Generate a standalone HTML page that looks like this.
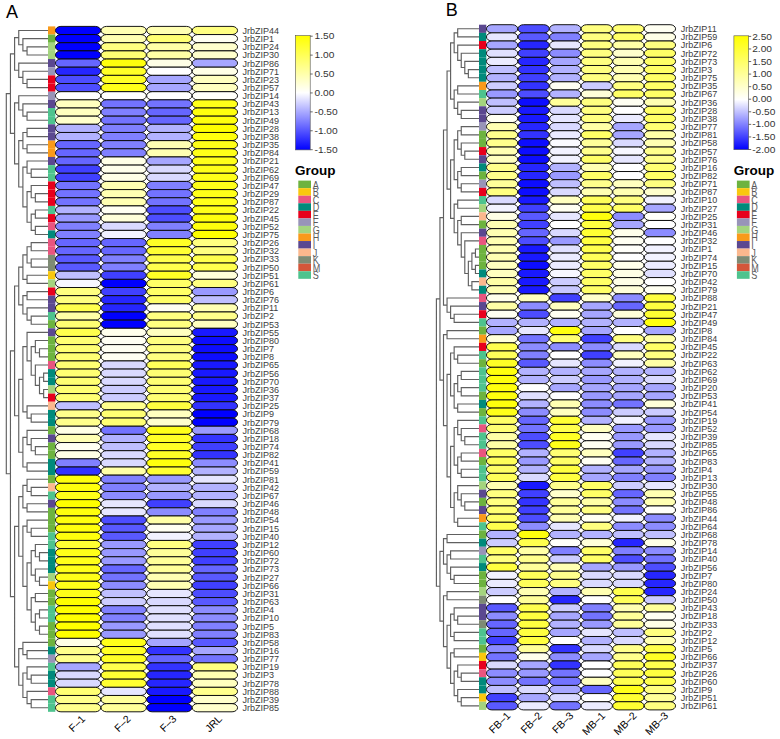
<!DOCTYPE html>
<html><head><meta charset="utf-8"><title>Heatmap</title>
<style>
html,body{margin:0;padding:0;background:#fff;}
body{width:780px;height:739px;overflow:hidden;}
svg{display:block;font-family:"Liberation Sans",sans-serif;}
</style></head>
<body>
<svg width="780" height="739" viewBox="0 0 780 739">
<rect width="780" height="739" fill="#fff"/>
<path d="M48 46.8H27.05V54.96H48M48 38.64H22.9V50.88H27.05M48 30.48H18.75V44.76H22.9M48 79.44H27.05V87.6H48M48 71.28H22.9V83.52H27.05M48 63.12H18.75V77.4H22.9M18.75 37.62H14.6V70.26H18.75M48 112.07H27.05V120.23H48M48 103.92H22.9V116.15H27.05M48 95.76H18.75V110.04H22.9M48 128.39H27.05V136.55H48M48 144.71H27.05V152.87H48M27.05 132.47H22.9V148.79H27.05M48 169.19H31.2V177.35H48M48 161.03H27.05V173.27H31.2M48 193.67H35.35V201.83H48M48 185.51H31.2V197.75H35.35M48 209.99H35.35V218.15H48M48 226.31H35.35V234.47H48M35.35 214.07H31.2V230.39H35.35M31.2 191.63H27.05V222.23H31.2M27.05 167.15H22.9V206.93H27.05M22.9 140.63H18.75V187.04H22.9M18.75 102.9H14.6V163.84H18.75M14.6 53.94H10.45V133.37H14.6M48 242.63H31.2V250.79H48M48 258.95H31.2V267.11H48M31.2 246.71H27.05V263.03H31.2M48 275.27H27.05V283.43H48M27.05 254.87H22.9V279.35H27.05M48 291.58H27.05V299.74H48M48 316.06H31.2V324.22H48M48 307.9H27.05V320.14H31.2M27.05 295.66H22.9V314.02H27.05M22.9 267.11H18.75V304.84H22.9M48 348.7H39.5V356.86H48M48 340.54H35.35V352.78H39.5M48 373.18H43.65V381.34H48M48 389.5H43.65V397.66H48M43.65 377.26H39.5V393.58H43.65M48 365.02H35.35V385.42H39.5M35.35 346.66H31.2V375.22H35.35M48 332.38H27.05V360.94H31.2M48 413.98H31.2V422.14H48M48 405.82H27.05V418.06H31.2M27.05 346.66H22.9V411.94H27.05M48 446.62H35.35V454.77H48M48 438.46H31.2V450.7H35.35M48 430.3H27.05V444.58H31.2M48 462.93H27.05V471.09H48M27.05 437.44H22.9V467.01H27.05M22.9 379.3H18.75V452.23H22.9M18.75 285.97H14.6V415.76H18.75M48 487.41H31.2V495.57H48M48 479.25H27.05V491.49H31.2M48 503.73H27.05V511.89H48M27.05 485.37H22.9V507.81H27.05M48 528.21H31.2V536.37H48M48 520.05H27.05V532.29H31.2M48 552.69H39.5V560.85H48M48 544.53H35.35V556.77H39.5M48 577.17H39.5V585.33H48M48 569.01H35.35V581.25H39.5M35.35 550.65H31.2V575.13H35.35M48 593.49H35.35V601.65H48M48 609.81H39.5V617.97H48M48 626.12H39.5V634.28H48M39.5 613.89H35.35V630.2H39.5M35.35 597.57H31.2V622.05H35.35M31.2 562.89H27.05V609.81H31.2M27.05 526.17H22.9V586.35H27.05M22.9 496.59H18.75V556.26H22.9M48 650.6H27.05V658.76H48M48 642.44H22.9V654.68H27.05M48 675.08H31.2V683.24H48M48 666.92H27.05V679.16H31.2M48 699.56H31.2V707.72H48M48 691.4H27.05V703.64H31.2M27.05 673.04H22.9V697.52H27.05M22.9 648.56H18.75V685.28H22.9M18.75 526.43H14.6V666.92H18.75M14.6 350.87H10.45V596.67H14.6M10.45 93.65H6.3V473.77H10.45" fill="none" stroke="#606060" stroke-width="1.15"/>
<rect x="48" y="26.4" width="7.3" height="8.18" fill="#F99A1A"/>
<rect x="48" y="34.56" width="7.3" height="8.18" fill="#6DB33F"/>
<rect x="48" y="42.72" width="7.3" height="8.18" fill="#A4D47E"/>
<rect x="48" y="50.88" width="7.3" height="8.18" fill="#A4D47E"/>
<rect x="48" y="59.04" width="7.3" height="8.18" fill="#5B4890"/>
<rect x="48" y="67.2" width="7.3" height="8.18" fill="#9894B8"/>
<rect x="48" y="75.36" width="7.3" height="8.18" fill="#E8001C"/>
<rect x="48" y="83.52" width="7.3" height="8.18" fill="#E8001C"/>
<rect x="48" y="91.68" width="7.3" height="8.18" fill="#9894B8"/>
<rect x="48" y="99.84" width="7.3" height="8.18" fill="#5B4890"/>
<rect x="48" y="108" width="7.3" height="8.18" fill="#4EC38E"/>
<rect x="48" y="116.15" width="7.3" height="8.18" fill="#4EC38E"/>
<rect x="48" y="124.31" width="7.3" height="8.18" fill="#5B4890"/>
<rect x="48" y="132.47" width="7.3" height="8.18" fill="#5B4890"/>
<rect x="48" y="140.63" width="7.3" height="8.18" fill="#F99A1A"/>
<rect x="48" y="148.79" width="7.3" height="8.18" fill="#F99A1A"/>
<rect x="48" y="156.95" width="7.3" height="8.18" fill="#5B4890"/>
<rect x="48" y="165.11" width="7.3" height="8.18" fill="#4EC38E"/>
<rect x="48" y="173.27" width="7.3" height="8.18" fill="#4EC38E"/>
<rect x="48" y="181.43" width="7.3" height="8.18" fill="#E8001C"/>
<rect x="48" y="189.59" width="7.3" height="8.18" fill="#E8001C"/>
<rect x="48" y="197.75" width="7.3" height="8.18" fill="#E8001C"/>
<rect x="48" y="205.91" width="7.3" height="8.18" fill="#4EC38E"/>
<rect x="48" y="214.07" width="7.3" height="8.18" fill="#E8001C"/>
<rect x="48" y="222.23" width="7.3" height="8.18" fill="#E9557F"/>
<rect x="48" y="230.39" width="7.3" height="8.18" fill="#008A7B"/>
<rect x="48" y="238.55" width="7.3" height="8.18" fill="#E9557F"/>
<rect x="48" y="246.71" width="7.3" height="8.18" fill="#E9557F"/>
<rect x="48" y="254.87" width="7.3" height="8.18" fill="#7E8B74"/>
<rect x="48" y="263.03" width="7.3" height="8.18" fill="#7E8B74"/>
<rect x="48" y="271.19" width="7.3" height="8.18" fill="#F9C80E"/>
<rect x="48" y="279.35" width="7.3" height="8.18" fill="#A4D47E"/>
<rect x="48" y="287.5" width="7.3" height="8.18" fill="#E8001C"/>
<rect x="48" y="295.66" width="7.3" height="8.18" fill="#5B4890"/>
<rect x="48" y="303.82" width="7.3" height="8.18" fill="#5B4890"/>
<rect x="48" y="311.98" width="7.3" height="8.18" fill="#4EC38E"/>
<rect x="48" y="320.14" width="7.3" height="8.18" fill="#6DB33F"/>
<rect x="48" y="328.3" width="7.3" height="8.18" fill="#5B4890"/>
<rect x="48" y="336.46" width="7.3" height="8.18" fill="#6DB33F"/>
<rect x="48" y="344.62" width="7.3" height="8.18" fill="#6DB33F"/>
<rect x="48" y="352.78" width="7.3" height="8.18" fill="#6DB33F"/>
<rect x="48" y="360.94" width="7.3" height="8.18" fill="#E9557F"/>
<rect x="48" y="369.1" width="7.3" height="8.18" fill="#008A7B"/>
<rect x="48" y="377.26" width="7.3" height="8.18" fill="#008A7B"/>
<rect x="48" y="385.42" width="7.3" height="8.18" fill="#A4D47E"/>
<rect x="48" y="393.58" width="7.3" height="8.18" fill="#E8001C"/>
<rect x="48" y="401.74" width="7.3" height="8.18" fill="#FBB88E"/>
<rect x="48" y="409.9" width="7.3" height="8.18" fill="#008A7B"/>
<rect x="48" y="418.06" width="7.3" height="8.18" fill="#008A7B"/>
<rect x="48" y="426.22" width="7.3" height="8.18" fill="#6DB33F"/>
<rect x="48" y="434.38" width="7.3" height="8.18" fill="#5B4890"/>
<rect x="48" y="442.54" width="7.3" height="8.18" fill="#6DB33F"/>
<rect x="48" y="450.7" width="7.3" height="8.18" fill="#6DB33F"/>
<rect x="48" y="458.85" width="7.3" height="8.18" fill="#008A7B"/>
<rect x="48" y="467.01" width="7.3" height="8.18" fill="#008A7B"/>
<rect x="48" y="475.17" width="7.3" height="8.18" fill="#6DB33F"/>
<rect x="48" y="483.33" width="7.3" height="8.18" fill="#FBB88E"/>
<rect x="48" y="491.49" width="7.3" height="8.18" fill="#4EC38E"/>
<rect x="48" y="499.65" width="7.3" height="8.18" fill="#5B4890"/>
<rect x="48" y="507.81" width="7.3" height="8.18" fill="#6DB33F"/>
<rect x="48" y="515.97" width="7.3" height="8.18" fill="#6DB33F"/>
<rect x="48" y="524.13" width="7.3" height="8.18" fill="#6DB33F"/>
<rect x="48" y="532.29" width="7.3" height="8.18" fill="#4EC38E"/>
<rect x="48" y="540.45" width="7.3" height="8.18" fill="#4EC38E"/>
<rect x="48" y="548.61" width="7.3" height="8.18" fill="#008A7B"/>
<rect x="48" y="556.77" width="7.3" height="8.18" fill="#008A7B"/>
<rect x="48" y="564.93" width="7.3" height="8.18" fill="#008A7B"/>
<rect x="48" y="573.09" width="7.3" height="8.18" fill="#A4D47E"/>
<rect x="48" y="581.25" width="7.3" height="8.18" fill="#F9C80E"/>
<rect x="48" y="589.41" width="7.3" height="8.18" fill="#6DB33F"/>
<rect x="48" y="597.57" width="7.3" height="8.18" fill="#6DB33F"/>
<rect x="48" y="605.73" width="7.3" height="8.18" fill="#4EC38E"/>
<rect x="48" y="613.89" width="7.3" height="8.18" fill="#4EC38E"/>
<rect x="48" y="622.05" width="7.3" height="8.18" fill="#6DB33F"/>
<rect x="48" y="630.2" width="7.3" height="8.18" fill="#6DB33F"/>
<rect x="48" y="638.36" width="7.3" height="8.18" fill="#6DB33F"/>
<rect x="48" y="646.52" width="7.3" height="8.18" fill="#008A7B"/>
<rect x="48" y="654.68" width="7.3" height="8.18" fill="#9894B8"/>
<rect x="48" y="662.84" width="7.3" height="8.18" fill="#4EC38E"/>
<rect x="48" y="671" width="7.3" height="8.18" fill="#008A7B"/>
<rect x="48" y="679.16" width="7.3" height="8.18" fill="#008A7B"/>
<rect x="48" y="687.32" width="7.3" height="8.18" fill="#E9557F"/>
<rect x="48" y="695.48" width="7.3" height="8.18" fill="#4EC38E"/>
<rect x="48" y="703.64" width="7.3" height="8.18" fill="#4EC38E"/>
<rect x="55.45" y="26.4" width="45.3" height="8.16" rx="5.5" ry="4.08" fill="#0000FF" stroke="#0a0a0a" stroke-width="0.95"/>
<rect x="101.05" y="26.4" width="45.3" height="8.16" rx="5.5" ry="4.08" fill="#FFFFB2" stroke="#0a0a0a" stroke-width="0.95"/>
<rect x="146.65" y="26.4" width="45.3" height="8.16" rx="5.5" ry="4.08" fill="#FFFFB2" stroke="#0a0a0a" stroke-width="0.95"/>
<rect x="192.25" y="26.4" width="45.3" height="8.16" rx="5.5" ry="4.08" fill="#FFFF80" stroke="#0a0a0a" stroke-width="0.95"/>
<rect x="55.45" y="34.56" width="45.3" height="8.16" rx="5.5" ry="4.08" fill="#0000FF" stroke="#0a0a0a" stroke-width="0.95"/>
<rect x="101.05" y="34.56" width="45.3" height="8.16" rx="5.5" ry="4.08" fill="#FFFFB2" stroke="#0a0a0a" stroke-width="0.95"/>
<rect x="146.65" y="34.56" width="45.3" height="8.16" rx="5.5" ry="4.08" fill="#FFFF73" stroke="#0a0a0a" stroke-width="0.95"/>
<rect x="192.25" y="34.56" width="45.3" height="8.16" rx="5.5" ry="4.08" fill="#FFFFF2" stroke="#0a0a0a" stroke-width="0.95"/>
<rect x="55.45" y="42.72" width="45.3" height="8.16" rx="5.5" ry="4.08" fill="#0000FF" stroke="#0a0a0a" stroke-width="0.95"/>
<rect x="101.05" y="42.72" width="45.3" height="8.16" rx="5.5" ry="4.08" fill="#FFFF80" stroke="#0a0a0a" stroke-width="0.95"/>
<rect x="146.65" y="42.72" width="45.3" height="8.16" rx="5.5" ry="4.08" fill="#FFFFA6" stroke="#0a0a0a" stroke-width="0.95"/>
<rect x="192.25" y="42.72" width="45.3" height="8.16" rx="5.5" ry="4.08" fill="#FFFFCC" stroke="#0a0a0a" stroke-width="0.95"/>
<rect x="55.45" y="50.88" width="45.3" height="8.16" rx="5.5" ry="4.08" fill="#0000FF" stroke="#0a0a0a" stroke-width="0.95"/>
<rect x="101.05" y="50.88" width="45.3" height="8.16" rx="5.5" ry="4.08" fill="#FFFF73" stroke="#0a0a0a" stroke-width="0.95"/>
<rect x="146.65" y="50.88" width="45.3" height="8.16" rx="5.5" ry="4.08" fill="#FFFFA6" stroke="#0a0a0a" stroke-width="0.95"/>
<rect x="192.25" y="50.88" width="45.3" height="8.16" rx="5.5" ry="4.08" fill="#FFFFCC" stroke="#0a0a0a" stroke-width="0.95"/>
<rect x="55.45" y="59.04" width="45.3" height="8.16" rx="5.5" ry="4.08" fill="#6666FF" stroke="#0a0a0a" stroke-width="0.95"/>
<rect x="101.05" y="59.04" width="45.3" height="8.16" rx="5.5" ry="4.08" fill="#FFFF0D" stroke="#0a0a0a" stroke-width="0.95"/>
<rect x="146.65" y="59.04" width="45.3" height="8.16" rx="5.5" ry="4.08" fill="#FFFFE6" stroke="#0a0a0a" stroke-width="0.95"/>
<rect x="192.25" y="59.04" width="45.3" height="8.16" rx="5.5" ry="4.08" fill="#A6A6FF" stroke="#0a0a0a" stroke-width="0.95"/>
<rect x="55.45" y="67.2" width="45.3" height="8.16" rx="5.5" ry="4.08" fill="#2626FF" stroke="#0a0a0a" stroke-width="0.95"/>
<rect x="101.05" y="67.2" width="45.3" height="8.16" rx="5.5" ry="4.08" fill="#FFFF26" stroke="#0a0a0a" stroke-width="0.95"/>
<rect x="146.65" y="67.2" width="45.3" height="8.16" rx="5.5" ry="4.08" fill="#FFFFFF" stroke="#0a0a0a" stroke-width="0.95"/>
<rect x="192.25" y="67.2" width="45.3" height="8.16" rx="5.5" ry="4.08" fill="#FFFFE6" stroke="#0a0a0a" stroke-width="0.95"/>
<rect x="55.45" y="75.36" width="45.3" height="8.16" rx="5.5" ry="4.08" fill="#4D4DFF" stroke="#0a0a0a" stroke-width="0.95"/>
<rect x="101.05" y="75.36" width="45.3" height="8.16" rx="5.5" ry="4.08" fill="#FFFF26" stroke="#0a0a0a" stroke-width="0.95"/>
<rect x="146.65" y="75.36" width="45.3" height="8.16" rx="5.5" ry="4.08" fill="#A6A6FF" stroke="#0a0a0a" stroke-width="0.95"/>
<rect x="192.25" y="75.36" width="45.3" height="8.16" rx="5.5" ry="4.08" fill="#FFFFBF" stroke="#0a0a0a" stroke-width="0.95"/>
<rect x="55.45" y="83.52" width="45.3" height="8.16" rx="5.5" ry="4.08" fill="#4D4DFF" stroke="#0a0a0a" stroke-width="0.95"/>
<rect x="101.05" y="83.52" width="45.3" height="8.16" rx="5.5" ry="4.08" fill="#FFFF19" stroke="#0a0a0a" stroke-width="0.95"/>
<rect x="146.65" y="83.52" width="45.3" height="8.16" rx="5.5" ry="4.08" fill="#A6A6FF" stroke="#0a0a0a" stroke-width="0.95"/>
<rect x="192.25" y="83.52" width="45.3" height="8.16" rx="5.5" ry="4.08" fill="#FFFFBF" stroke="#0a0a0a" stroke-width="0.95"/>
<rect x="55.45" y="91.68" width="45.3" height="8.16" rx="5.5" ry="4.08" fill="#FFFFFF" stroke="#0a0a0a" stroke-width="0.95"/>
<rect x="101.05" y="91.68" width="45.3" height="8.16" rx="5.5" ry="4.08" fill="#FFFFFF" stroke="#0a0a0a" stroke-width="0.95"/>
<rect x="146.65" y="91.68" width="45.3" height="8.16" rx="5.5" ry="4.08" fill="#FFFFFF" stroke="#0a0a0a" stroke-width="0.95"/>
<rect x="192.25" y="91.68" width="45.3" height="8.16" rx="5.5" ry="4.08" fill="#FFFFFA" stroke="#0a0a0a" stroke-width="0.95"/>
<rect x="55.45" y="99.84" width="45.3" height="8.16" rx="5.5" ry="4.08" fill="#FFFFBF" stroke="#0a0a0a" stroke-width="0.95"/>
<rect x="101.05" y="99.84" width="45.3" height="8.16" rx="5.5" ry="4.08" fill="#7373FF" stroke="#0a0a0a" stroke-width="0.95"/>
<rect x="146.65" y="99.84" width="45.3" height="8.16" rx="5.5" ry="4.08" fill="#7373FF" stroke="#0a0a0a" stroke-width="0.95"/>
<rect x="192.25" y="99.84" width="45.3" height="8.16" rx="5.5" ry="4.08" fill="#FFFF19" stroke="#0a0a0a" stroke-width="0.95"/>
<rect x="55.45" y="108" width="45.3" height="8.16" rx="5.5" ry="4.08" fill="#FFFFBF" stroke="#0a0a0a" stroke-width="0.95"/>
<rect x="101.05" y="108" width="45.3" height="8.16" rx="5.5" ry="4.08" fill="#8080FF" stroke="#0a0a0a" stroke-width="0.95"/>
<rect x="146.65" y="108" width="45.3" height="8.16" rx="5.5" ry="4.08" fill="#6666FF" stroke="#0a0a0a" stroke-width="0.95"/>
<rect x="192.25" y="108" width="45.3" height="8.16" rx="5.5" ry="4.08" fill="#FFFF0D" stroke="#0a0a0a" stroke-width="0.95"/>
<rect x="55.45" y="116.15" width="45.3" height="8.16" rx="5.5" ry="4.08" fill="#FFFFCC" stroke="#0a0a0a" stroke-width="0.95"/>
<rect x="101.05" y="116.15" width="45.3" height="8.16" rx="5.5" ry="4.08" fill="#7373FF" stroke="#0a0a0a" stroke-width="0.95"/>
<rect x="146.65" y="116.15" width="45.3" height="8.16" rx="5.5" ry="4.08" fill="#6666FF" stroke="#0a0a0a" stroke-width="0.95"/>
<rect x="192.25" y="116.15" width="45.3" height="8.16" rx="5.5" ry="4.08" fill="#FFFF0D" stroke="#0a0a0a" stroke-width="0.95"/>
<rect x="55.45" y="124.31" width="45.3" height="8.16" rx="5.5" ry="4.08" fill="#B2B2FF" stroke="#0a0a0a" stroke-width="0.95"/>
<rect x="101.05" y="124.31" width="45.3" height="8.16" rx="5.5" ry="4.08" fill="#8080FF" stroke="#0a0a0a" stroke-width="0.95"/>
<rect x="146.65" y="124.31" width="45.3" height="8.16" rx="5.5" ry="4.08" fill="#B2B2FF" stroke="#0a0a0a" stroke-width="0.95"/>
<rect x="192.25" y="124.31" width="45.3" height="8.16" rx="5.5" ry="4.08" fill="#FFFF00" stroke="#0a0a0a" stroke-width="0.95"/>
<rect x="55.45" y="132.47" width="45.3" height="8.16" rx="5.5" ry="4.08" fill="#B2B2FF" stroke="#0a0a0a" stroke-width="0.95"/>
<rect x="101.05" y="132.47" width="45.3" height="8.16" rx="5.5" ry="4.08" fill="#8080FF" stroke="#0a0a0a" stroke-width="0.95"/>
<rect x="146.65" y="132.47" width="45.3" height="8.16" rx="5.5" ry="4.08" fill="#B2B2FF" stroke="#0a0a0a" stroke-width="0.95"/>
<rect x="192.25" y="132.47" width="45.3" height="8.16" rx="5.5" ry="4.08" fill="#FFFF0D" stroke="#0a0a0a" stroke-width="0.95"/>
<rect x="55.45" y="140.63" width="45.3" height="8.16" rx="5.5" ry="4.08" fill="#6666FF" stroke="#0a0a0a" stroke-width="0.95"/>
<rect x="101.05" y="140.63" width="45.3" height="8.16" rx="5.5" ry="4.08" fill="#8080FF" stroke="#0a0a0a" stroke-width="0.95"/>
<rect x="146.65" y="140.63" width="45.3" height="8.16" rx="5.5" ry="4.08" fill="#FFFFB2" stroke="#0a0a0a" stroke-width="0.95"/>
<rect x="192.25" y="140.63" width="45.3" height="8.16" rx="5.5" ry="4.08" fill="#FFFF19" stroke="#0a0a0a" stroke-width="0.95"/>
<rect x="55.45" y="148.79" width="45.3" height="8.16" rx="5.5" ry="4.08" fill="#6666FF" stroke="#0a0a0a" stroke-width="0.95"/>
<rect x="101.05" y="148.79" width="45.3" height="8.16" rx="5.5" ry="4.08" fill="#8080FF" stroke="#0a0a0a" stroke-width="0.95"/>
<rect x="146.65" y="148.79" width="45.3" height="8.16" rx="5.5" ry="4.08" fill="#FFFFB2" stroke="#0a0a0a" stroke-width="0.95"/>
<rect x="192.25" y="148.79" width="45.3" height="8.16" rx="5.5" ry="4.08" fill="#FFFF19" stroke="#0a0a0a" stroke-width="0.95"/>
<rect x="55.45" y="156.95" width="45.3" height="8.16" rx="5.5" ry="4.08" fill="#6666FF" stroke="#0a0a0a" stroke-width="0.95"/>
<rect x="101.05" y="156.95" width="45.3" height="8.16" rx="5.5" ry="4.08" fill="#FFFFE6" stroke="#0a0a0a" stroke-width="0.95"/>
<rect x="146.65" y="156.95" width="45.3" height="8.16" rx="5.5" ry="4.08" fill="#A6A6FF" stroke="#0a0a0a" stroke-width="0.95"/>
<rect x="192.25" y="156.95" width="45.3" height="8.16" rx="5.5" ry="4.08" fill="#FFFF19" stroke="#0a0a0a" stroke-width="0.95"/>
<rect x="55.45" y="165.11" width="45.3" height="8.16" rx="5.5" ry="4.08" fill="#4040FF" stroke="#0a0a0a" stroke-width="0.95"/>
<rect x="101.05" y="165.11" width="45.3" height="8.16" rx="5.5" ry="4.08" fill="#FFFFEB" stroke="#0a0a0a" stroke-width="0.95"/>
<rect x="146.65" y="165.11" width="45.3" height="8.16" rx="5.5" ry="4.08" fill="#D9D9FF" stroke="#0a0a0a" stroke-width="0.95"/>
<rect x="192.25" y="165.11" width="45.3" height="8.16" rx="5.5" ry="4.08" fill="#FFFF19" stroke="#0a0a0a" stroke-width="0.95"/>
<rect x="55.45" y="173.27" width="45.3" height="8.16" rx="5.5" ry="4.08" fill="#4040FF" stroke="#0a0a0a" stroke-width="0.95"/>
<rect x="101.05" y="173.27" width="45.3" height="8.16" rx="5.5" ry="4.08" fill="#FFFFE6" stroke="#0a0a0a" stroke-width="0.95"/>
<rect x="146.65" y="173.27" width="45.3" height="8.16" rx="5.5" ry="4.08" fill="#D9D9FF" stroke="#0a0a0a" stroke-width="0.95"/>
<rect x="192.25" y="173.27" width="45.3" height="8.16" rx="5.5" ry="4.08" fill="#FFFF19" stroke="#0a0a0a" stroke-width="0.95"/>
<rect x="55.45" y="181.43" width="45.3" height="8.16" rx="5.5" ry="4.08" fill="#7373FF" stroke="#0a0a0a" stroke-width="0.95"/>
<rect x="101.05" y="181.43" width="45.3" height="8.16" rx="5.5" ry="4.08" fill="#FFFFB2" stroke="#0a0a0a" stroke-width="0.95"/>
<rect x="146.65" y="181.43" width="45.3" height="8.16" rx="5.5" ry="4.08" fill="#8080FF" stroke="#0a0a0a" stroke-width="0.95"/>
<rect x="192.25" y="181.43" width="45.3" height="8.16" rx="5.5" ry="4.08" fill="#FFFF19" stroke="#0a0a0a" stroke-width="0.95"/>
<rect x="55.45" y="189.59" width="45.3" height="8.16" rx="5.5" ry="4.08" fill="#7373FF" stroke="#0a0a0a" stroke-width="0.95"/>
<rect x="101.05" y="189.59" width="45.3" height="8.16" rx="5.5" ry="4.08" fill="#FFFFB2" stroke="#0a0a0a" stroke-width="0.95"/>
<rect x="146.65" y="189.59" width="45.3" height="8.16" rx="5.5" ry="4.08" fill="#7373FF" stroke="#0a0a0a" stroke-width="0.95"/>
<rect x="192.25" y="189.59" width="45.3" height="8.16" rx="5.5" ry="4.08" fill="#FFFF19" stroke="#0a0a0a" stroke-width="0.95"/>
<rect x="55.45" y="197.75" width="45.3" height="8.16" rx="5.5" ry="4.08" fill="#7373FF" stroke="#0a0a0a" stroke-width="0.95"/>
<rect x="101.05" y="197.75" width="45.3" height="8.16" rx="5.5" ry="4.08" fill="#FFFFB2" stroke="#0a0a0a" stroke-width="0.95"/>
<rect x="146.65" y="197.75" width="45.3" height="8.16" rx="5.5" ry="4.08" fill="#7373FF" stroke="#0a0a0a" stroke-width="0.95"/>
<rect x="192.25" y="197.75" width="45.3" height="8.16" rx="5.5" ry="4.08" fill="#FFFF19" stroke="#0a0a0a" stroke-width="0.95"/>
<rect x="55.45" y="205.91" width="45.3" height="8.16" rx="5.5" ry="4.08" fill="#B2B2FF" stroke="#0a0a0a" stroke-width="0.95"/>
<rect x="101.05" y="205.91" width="45.3" height="8.16" rx="5.5" ry="4.08" fill="#FFFFF2" stroke="#0a0a0a" stroke-width="0.95"/>
<rect x="146.65" y="205.91" width="45.3" height="8.16" rx="5.5" ry="4.08" fill="#4D4DFF" stroke="#0a0a0a" stroke-width="0.95"/>
<rect x="192.25" y="205.91" width="45.3" height="8.16" rx="5.5" ry="4.08" fill="#FFFF19" stroke="#0a0a0a" stroke-width="0.95"/>
<rect x="55.45" y="214.07" width="45.3" height="8.16" rx="5.5" ry="4.08" fill="#9999FF" stroke="#0a0a0a" stroke-width="0.95"/>
<rect x="101.05" y="214.07" width="45.3" height="8.16" rx="5.5" ry="4.08" fill="#FFFFD9" stroke="#0a0a0a" stroke-width="0.95"/>
<rect x="146.65" y="214.07" width="45.3" height="8.16" rx="5.5" ry="4.08" fill="#4D4DFF" stroke="#0a0a0a" stroke-width="0.95"/>
<rect x="192.25" y="214.07" width="45.3" height="8.16" rx="5.5" ry="4.08" fill="#FFFF0D" stroke="#0a0a0a" stroke-width="0.95"/>
<rect x="55.45" y="222.23" width="45.3" height="8.16" rx="5.5" ry="4.08" fill="#8080FF" stroke="#0a0a0a" stroke-width="0.95"/>
<rect x="101.05" y="222.23" width="45.3" height="8.16" rx="5.5" ry="4.08" fill="#D9D9FF" stroke="#0a0a0a" stroke-width="0.95"/>
<rect x="146.65" y="222.23" width="45.3" height="8.16" rx="5.5" ry="4.08" fill="#8080FF" stroke="#0a0a0a" stroke-width="0.95"/>
<rect x="192.25" y="222.23" width="45.3" height="8.16" rx="5.5" ry="4.08" fill="#FFFF0D" stroke="#0a0a0a" stroke-width="0.95"/>
<rect x="55.45" y="230.39" width="45.3" height="8.16" rx="5.5" ry="4.08" fill="#8080FF" stroke="#0a0a0a" stroke-width="0.95"/>
<rect x="101.05" y="230.39" width="45.3" height="8.16" rx="5.5" ry="4.08" fill="#F2F2FF" stroke="#0a0a0a" stroke-width="0.95"/>
<rect x="146.65" y="230.39" width="45.3" height="8.16" rx="5.5" ry="4.08" fill="#8080FF" stroke="#0a0a0a" stroke-width="0.95"/>
<rect x="192.25" y="230.39" width="45.3" height="8.16" rx="5.5" ry="4.08" fill="#FFFF00" stroke="#0a0a0a" stroke-width="0.95"/>
<rect x="55.45" y="238.55" width="45.3" height="8.16" rx="5.5" ry="4.08" fill="#6666FF" stroke="#0a0a0a" stroke-width="0.95"/>
<rect x="101.05" y="238.55" width="45.3" height="8.16" rx="5.5" ry="4.08" fill="#6666FF" stroke="#0a0a0a" stroke-width="0.95"/>
<rect x="146.65" y="238.55" width="45.3" height="8.16" rx="5.5" ry="4.08" fill="#FFFF26" stroke="#0a0a0a" stroke-width="0.95"/>
<rect x="192.25" y="238.55" width="45.3" height="8.16" rx="5.5" ry="4.08" fill="#FFFF80" stroke="#0a0a0a" stroke-width="0.95"/>
<rect x="55.45" y="246.71" width="45.3" height="8.16" rx="5.5" ry="4.08" fill="#6666FF" stroke="#0a0a0a" stroke-width="0.95"/>
<rect x="101.05" y="246.71" width="45.3" height="8.16" rx="5.5" ry="4.08" fill="#6666FF" stroke="#0a0a0a" stroke-width="0.95"/>
<rect x="146.65" y="246.71" width="45.3" height="8.16" rx="5.5" ry="4.08" fill="#FFFF33" stroke="#0a0a0a" stroke-width="0.95"/>
<rect x="192.25" y="246.71" width="45.3" height="8.16" rx="5.5" ry="4.08" fill="#FFFF80" stroke="#0a0a0a" stroke-width="0.95"/>
<rect x="55.45" y="254.87" width="45.3" height="8.16" rx="5.5" ry="4.08" fill="#5959FF" stroke="#0a0a0a" stroke-width="0.95"/>
<rect x="101.05" y="254.87" width="45.3" height="8.16" rx="5.5" ry="4.08" fill="#8080FF" stroke="#0a0a0a" stroke-width="0.95"/>
<rect x="146.65" y="254.87" width="45.3" height="8.16" rx="5.5" ry="4.08" fill="#FFFF4D" stroke="#0a0a0a" stroke-width="0.95"/>
<rect x="192.25" y="254.87" width="45.3" height="8.16" rx="5.5" ry="4.08" fill="#FFFF4D" stroke="#0a0a0a" stroke-width="0.95"/>
<rect x="55.45" y="263.03" width="45.3" height="8.16" rx="5.5" ry="4.08" fill="#5959FF" stroke="#0a0a0a" stroke-width="0.95"/>
<rect x="101.05" y="263.03" width="45.3" height="8.16" rx="5.5" ry="4.08" fill="#8080FF" stroke="#0a0a0a" stroke-width="0.95"/>
<rect x="146.65" y="263.03" width="45.3" height="8.16" rx="5.5" ry="4.08" fill="#FFFF4D" stroke="#0a0a0a" stroke-width="0.95"/>
<rect x="192.25" y="263.03" width="45.3" height="8.16" rx="5.5" ry="4.08" fill="#FFFF4D" stroke="#0a0a0a" stroke-width="0.95"/>
<rect x="55.45" y="271.19" width="45.3" height="8.16" rx="5.5" ry="4.08" fill="#BFBFFF" stroke="#0a0a0a" stroke-width="0.95"/>
<rect x="101.05" y="271.19" width="45.3" height="8.16" rx="5.5" ry="4.08" fill="#4040FF" stroke="#0a0a0a" stroke-width="0.95"/>
<rect x="146.65" y="271.19" width="45.3" height="8.16" rx="5.5" ry="4.08" fill="#FFFF26" stroke="#0a0a0a" stroke-width="0.95"/>
<rect x="192.25" y="271.19" width="45.3" height="8.16" rx="5.5" ry="4.08" fill="#FFFFD9" stroke="#0a0a0a" stroke-width="0.95"/>
<rect x="55.45" y="279.35" width="45.3" height="8.16" rx="5.5" ry="4.08" fill="#F7F7FF" stroke="#0a0a0a" stroke-width="0.95"/>
<rect x="101.05" y="279.35" width="45.3" height="8.16" rx="5.5" ry="4.08" fill="#0000FF" stroke="#0a0a0a" stroke-width="0.95"/>
<rect x="146.65" y="279.35" width="45.3" height="8.16" rx="5.5" ry="4.08" fill="#FFFF66" stroke="#0a0a0a" stroke-width="0.95"/>
<rect x="192.25" y="279.35" width="45.3" height="8.16" rx="5.5" ry="4.08" fill="#FFFF80" stroke="#0a0a0a" stroke-width="0.95"/>
<rect x="55.45" y="287.5" width="45.3" height="8.16" rx="5.5" ry="4.08" fill="#FFFF80" stroke="#0a0a0a" stroke-width="0.95"/>
<rect x="101.05" y="287.5" width="45.3" height="8.16" rx="5.5" ry="4.08" fill="#4040FF" stroke="#0a0a0a" stroke-width="0.95"/>
<rect x="146.65" y="287.5" width="45.3" height="8.16" rx="5.5" ry="4.08" fill="#FFFF66" stroke="#0a0a0a" stroke-width="0.95"/>
<rect x="192.25" y="287.5" width="45.3" height="8.16" rx="5.5" ry="4.08" fill="#9999FF" stroke="#0a0a0a" stroke-width="0.95"/>
<rect x="55.45" y="295.66" width="45.3" height="8.16" rx="5.5" ry="4.08" fill="#FFFF80" stroke="#0a0a0a" stroke-width="0.95"/>
<rect x="101.05" y="295.66" width="45.3" height="8.16" rx="5.5" ry="4.08" fill="#2626FF" stroke="#0a0a0a" stroke-width="0.95"/>
<rect x="146.65" y="295.66" width="45.3" height="8.16" rx="5.5" ry="4.08" fill="#FFFF66" stroke="#0a0a0a" stroke-width="0.95"/>
<rect x="192.25" y="295.66" width="45.3" height="8.16" rx="5.5" ry="4.08" fill="#BFBFFF" stroke="#0a0a0a" stroke-width="0.95"/>
<rect x="55.45" y="303.82" width="45.3" height="8.16" rx="5.5" ry="4.08" fill="#FFFF4D" stroke="#0a0a0a" stroke-width="0.95"/>
<rect x="101.05" y="303.82" width="45.3" height="8.16" rx="5.5" ry="4.08" fill="#2626FF" stroke="#0a0a0a" stroke-width="0.95"/>
<rect x="146.65" y="303.82" width="45.3" height="8.16" rx="5.5" ry="4.08" fill="#FFFFF2" stroke="#0a0a0a" stroke-width="0.95"/>
<rect x="192.25" y="303.82" width="45.3" height="8.16" rx="5.5" ry="4.08" fill="#FFFFB2" stroke="#0a0a0a" stroke-width="0.95"/>
<rect x="55.45" y="311.98" width="45.3" height="8.16" rx="5.5" ry="4.08" fill="#FFFFA6" stroke="#0a0a0a" stroke-width="0.95"/>
<rect x="101.05" y="311.98" width="45.3" height="8.16" rx="5.5" ry="4.08" fill="#0000FF" stroke="#0a0a0a" stroke-width="0.95"/>
<rect x="146.65" y="311.98" width="45.3" height="8.16" rx="5.5" ry="4.08" fill="#FFFF80" stroke="#0a0a0a" stroke-width="0.95"/>
<rect x="192.25" y="311.98" width="45.3" height="8.16" rx="5.5" ry="4.08" fill="#FFFF8C" stroke="#0a0a0a" stroke-width="0.95"/>
<rect x="55.45" y="320.14" width="45.3" height="8.16" rx="5.5" ry="4.08" fill="#FFFF73" stroke="#0a0a0a" stroke-width="0.95"/>
<rect x="101.05" y="320.14" width="45.3" height="8.16" rx="5.5" ry="4.08" fill="#0000FF" stroke="#0a0a0a" stroke-width="0.95"/>
<rect x="146.65" y="320.14" width="45.3" height="8.16" rx="5.5" ry="4.08" fill="#FFFF80" stroke="#0a0a0a" stroke-width="0.95"/>
<rect x="192.25" y="320.14" width="45.3" height="8.16" rx="5.5" ry="4.08" fill="#FFFFBF" stroke="#0a0a0a" stroke-width="0.95"/>
<rect x="55.45" y="328.3" width="45.3" height="8.16" rx="5.5" ry="4.08" fill="#FFFF4D" stroke="#0a0a0a" stroke-width="0.95"/>
<rect x="101.05" y="328.3" width="45.3" height="8.16" rx="5.5" ry="4.08" fill="#FFFFEB" stroke="#0a0a0a" stroke-width="0.95"/>
<rect x="146.65" y="328.3" width="45.3" height="8.16" rx="5.5" ry="4.08" fill="#FFFFBF" stroke="#0a0a0a" stroke-width="0.95"/>
<rect x="192.25" y="328.3" width="45.3" height="8.16" rx="5.5" ry="4.08" fill="#1919FF" stroke="#0a0a0a" stroke-width="0.95"/>
<rect x="55.45" y="336.46" width="45.3" height="8.16" rx="5.5" ry="4.08" fill="#FFFF73" stroke="#0a0a0a" stroke-width="0.95"/>
<rect x="101.05" y="336.46" width="45.3" height="8.16" rx="5.5" ry="4.08" fill="#FFFFF2" stroke="#0a0a0a" stroke-width="0.95"/>
<rect x="146.65" y="336.46" width="45.3" height="8.16" rx="5.5" ry="4.08" fill="#FFFF80" stroke="#0a0a0a" stroke-width="0.95"/>
<rect x="192.25" y="336.46" width="45.3" height="8.16" rx="5.5" ry="4.08" fill="#0D0DFF" stroke="#0a0a0a" stroke-width="0.95"/>
<rect x="55.45" y="344.62" width="45.3" height="8.16" rx="5.5" ry="4.08" fill="#FFFF73" stroke="#0a0a0a" stroke-width="0.95"/>
<rect x="101.05" y="344.62" width="45.3" height="8.16" rx="5.5" ry="4.08" fill="#FFFFF2" stroke="#0a0a0a" stroke-width="0.95"/>
<rect x="146.65" y="344.62" width="45.3" height="8.16" rx="5.5" ry="4.08" fill="#FFFF80" stroke="#0a0a0a" stroke-width="0.95"/>
<rect x="192.25" y="344.62" width="45.3" height="8.16" rx="5.5" ry="4.08" fill="#0D0DFF" stroke="#0a0a0a" stroke-width="0.95"/>
<rect x="55.45" y="352.78" width="45.3" height="8.16" rx="5.5" ry="4.08" fill="#FFFF73" stroke="#0a0a0a" stroke-width="0.95"/>
<rect x="101.05" y="352.78" width="45.3" height="8.16" rx="5.5" ry="4.08" fill="#FFFFF2" stroke="#0a0a0a" stroke-width="0.95"/>
<rect x="146.65" y="352.78" width="45.3" height="8.16" rx="5.5" ry="4.08" fill="#FFFF80" stroke="#0a0a0a" stroke-width="0.95"/>
<rect x="192.25" y="352.78" width="45.3" height="8.16" rx="5.5" ry="4.08" fill="#0D0DFF" stroke="#0a0a0a" stroke-width="0.95"/>
<rect x="55.45" y="360.94" width="45.3" height="8.16" rx="5.5" ry="4.08" fill="#FFFF73" stroke="#0a0a0a" stroke-width="0.95"/>
<rect x="101.05" y="360.94" width="45.3" height="8.16" rx="5.5" ry="4.08" fill="#D9D9FF" stroke="#0a0a0a" stroke-width="0.95"/>
<rect x="146.65" y="360.94" width="45.3" height="8.16" rx="5.5" ry="4.08" fill="#FFFF59" stroke="#0a0a0a" stroke-width="0.95"/>
<rect x="192.25" y="360.94" width="45.3" height="8.16" rx="5.5" ry="4.08" fill="#1919FF" stroke="#0a0a0a" stroke-width="0.95"/>
<rect x="55.45" y="369.1" width="45.3" height="8.16" rx="5.5" ry="4.08" fill="#FFFF73" stroke="#0a0a0a" stroke-width="0.95"/>
<rect x="101.05" y="369.1" width="45.3" height="8.16" rx="5.5" ry="4.08" fill="#D9D9FF" stroke="#0a0a0a" stroke-width="0.95"/>
<rect x="146.65" y="369.1" width="45.3" height="8.16" rx="5.5" ry="4.08" fill="#FFFF73" stroke="#0a0a0a" stroke-width="0.95"/>
<rect x="192.25" y="369.1" width="45.3" height="8.16" rx="5.5" ry="4.08" fill="#1919FF" stroke="#0a0a0a" stroke-width="0.95"/>
<rect x="55.45" y="377.26" width="45.3" height="8.16" rx="5.5" ry="4.08" fill="#FFFF73" stroke="#0a0a0a" stroke-width="0.95"/>
<rect x="101.05" y="377.26" width="45.3" height="8.16" rx="5.5" ry="4.08" fill="#D9D9FF" stroke="#0a0a0a" stroke-width="0.95"/>
<rect x="146.65" y="377.26" width="45.3" height="8.16" rx="5.5" ry="4.08" fill="#FFFF73" stroke="#0a0a0a" stroke-width="0.95"/>
<rect x="192.25" y="377.26" width="45.3" height="8.16" rx="5.5" ry="4.08" fill="#1919FF" stroke="#0a0a0a" stroke-width="0.95"/>
<rect x="55.45" y="385.42" width="45.3" height="8.16" rx="5.5" ry="4.08" fill="#FFFF73" stroke="#0a0a0a" stroke-width="0.95"/>
<rect x="101.05" y="385.42" width="45.3" height="8.16" rx="5.5" ry="4.08" fill="#CCCCFF" stroke="#0a0a0a" stroke-width="0.95"/>
<rect x="146.65" y="385.42" width="45.3" height="8.16" rx="5.5" ry="4.08" fill="#FFFF73" stroke="#0a0a0a" stroke-width="0.95"/>
<rect x="192.25" y="385.42" width="45.3" height="8.16" rx="5.5" ry="4.08" fill="#1919FF" stroke="#0a0a0a" stroke-width="0.95"/>
<rect x="55.45" y="393.58" width="45.3" height="8.16" rx="5.5" ry="4.08" fill="#FFFF73" stroke="#0a0a0a" stroke-width="0.95"/>
<rect x="101.05" y="393.58" width="45.3" height="8.16" rx="5.5" ry="4.08" fill="#CCCCFF" stroke="#0a0a0a" stroke-width="0.95"/>
<rect x="146.65" y="393.58" width="45.3" height="8.16" rx="5.5" ry="4.08" fill="#FFFF73" stroke="#0a0a0a" stroke-width="0.95"/>
<rect x="192.25" y="393.58" width="45.3" height="8.16" rx="5.5" ry="4.08" fill="#1919FF" stroke="#0a0a0a" stroke-width="0.95"/>
<rect x="55.45" y="401.74" width="45.3" height="8.16" rx="5.5" ry="4.08" fill="#BFBFFF" stroke="#0a0a0a" stroke-width="0.95"/>
<rect x="101.05" y="401.74" width="45.3" height="8.16" rx="5.5" ry="4.08" fill="#FFFF8C" stroke="#0a0a0a" stroke-width="0.95"/>
<rect x="146.65" y="401.74" width="45.3" height="8.16" rx="5.5" ry="4.08" fill="#FFFF40" stroke="#0a0a0a" stroke-width="0.95"/>
<rect x="192.25" y="401.74" width="45.3" height="8.16" rx="5.5" ry="4.08" fill="#3333FF" stroke="#0a0a0a" stroke-width="0.95"/>
<rect x="55.45" y="409.9" width="45.3" height="8.16" rx="5.5" ry="4.08" fill="#FFFF8C" stroke="#0a0a0a" stroke-width="0.95"/>
<rect x="101.05" y="409.9" width="45.3" height="8.16" rx="5.5" ry="4.08" fill="#FFFF73" stroke="#0a0a0a" stroke-width="0.95"/>
<rect x="146.65" y="409.9" width="45.3" height="8.16" rx="5.5" ry="4.08" fill="#FFFFBF" stroke="#0a0a0a" stroke-width="0.95"/>
<rect x="192.25" y="409.9" width="45.3" height="8.16" rx="5.5" ry="4.08" fill="#0000FF" stroke="#0a0a0a" stroke-width="0.95"/>
<rect x="55.45" y="418.06" width="45.3" height="8.16" rx="5.5" ry="4.08" fill="#FFFF8C" stroke="#0a0a0a" stroke-width="0.95"/>
<rect x="101.05" y="418.06" width="45.3" height="8.16" rx="5.5" ry="4.08" fill="#FFFF73" stroke="#0a0a0a" stroke-width="0.95"/>
<rect x="146.65" y="418.06" width="45.3" height="8.16" rx="5.5" ry="4.08" fill="#FFFFCC" stroke="#0a0a0a" stroke-width="0.95"/>
<rect x="192.25" y="418.06" width="45.3" height="8.16" rx="5.5" ry="4.08" fill="#0000FF" stroke="#0a0a0a" stroke-width="0.95"/>
<rect x="55.45" y="426.22" width="45.3" height="8.16" rx="5.5" ry="4.08" fill="#FFFFE6" stroke="#0a0a0a" stroke-width="0.95"/>
<rect x="101.05" y="426.22" width="45.3" height="8.16" rx="5.5" ry="4.08" fill="#7373FF" stroke="#0a0a0a" stroke-width="0.95"/>
<rect x="146.65" y="426.22" width="45.3" height="8.16" rx="5.5" ry="4.08" fill="#FFFF19" stroke="#0a0a0a" stroke-width="0.95"/>
<rect x="192.25" y="426.22" width="45.3" height="8.16" rx="5.5" ry="4.08" fill="#9999FF" stroke="#0a0a0a" stroke-width="0.95"/>
<rect x="55.45" y="434.38" width="45.3" height="8.16" rx="5.5" ry="4.08" fill="#FFFFB2" stroke="#0a0a0a" stroke-width="0.95"/>
<rect x="101.05" y="434.38" width="45.3" height="8.16" rx="5.5" ry="4.08" fill="#B2B2FF" stroke="#0a0a0a" stroke-width="0.95"/>
<rect x="146.65" y="434.38" width="45.3" height="8.16" rx="5.5" ry="4.08" fill="#FFFF26" stroke="#0a0a0a" stroke-width="0.95"/>
<rect x="192.25" y="434.38" width="45.3" height="8.16" rx="5.5" ry="4.08" fill="#3333FF" stroke="#0a0a0a" stroke-width="0.95"/>
<rect x="55.45" y="442.54" width="45.3" height="8.16" rx="5.5" ry="4.08" fill="#FFFFF2" stroke="#0a0a0a" stroke-width="0.95"/>
<rect x="101.05" y="442.54" width="45.3" height="8.16" rx="5.5" ry="4.08" fill="#BFBFFF" stroke="#0a0a0a" stroke-width="0.95"/>
<rect x="146.65" y="442.54" width="45.3" height="8.16" rx="5.5" ry="4.08" fill="#FFFF26" stroke="#0a0a0a" stroke-width="0.95"/>
<rect x="192.25" y="442.54" width="45.3" height="8.16" rx="5.5" ry="4.08" fill="#4040FF" stroke="#0a0a0a" stroke-width="0.95"/>
<rect x="55.45" y="450.7" width="45.3" height="8.16" rx="5.5" ry="4.08" fill="#FFFFE6" stroke="#0a0a0a" stroke-width="0.95"/>
<rect x="101.05" y="450.7" width="45.3" height="8.16" rx="5.5" ry="4.08" fill="#D9D9FF" stroke="#0a0a0a" stroke-width="0.95"/>
<rect x="146.65" y="450.7" width="45.3" height="8.16" rx="5.5" ry="4.08" fill="#FFFF26" stroke="#0a0a0a" stroke-width="0.95"/>
<rect x="192.25" y="450.7" width="45.3" height="8.16" rx="5.5" ry="4.08" fill="#3333FF" stroke="#0a0a0a" stroke-width="0.95"/>
<rect x="55.45" y="458.85" width="45.3" height="8.16" rx="5.5" ry="4.08" fill="#8080FF" stroke="#0a0a0a" stroke-width="0.95"/>
<rect x="101.05" y="458.85" width="45.3" height="8.16" rx="5.5" ry="4.08" fill="#D9D9FF" stroke="#0a0a0a" stroke-width="0.95"/>
<rect x="146.65" y="458.85" width="45.3" height="8.16" rx="5.5" ry="4.08" fill="#FFFF0D" stroke="#0a0a0a" stroke-width="0.95"/>
<rect x="192.25" y="458.85" width="45.3" height="8.16" rx="5.5" ry="4.08" fill="#8C8CFF" stroke="#0a0a0a" stroke-width="0.95"/>
<rect x="55.45" y="467.01" width="45.3" height="8.16" rx="5.5" ry="4.08" fill="#3333FF" stroke="#0a0a0a" stroke-width="0.95"/>
<rect x="101.05" y="467.01" width="45.3" height="8.16" rx="5.5" ry="4.08" fill="#FFFFA6" stroke="#0a0a0a" stroke-width="0.95"/>
<rect x="146.65" y="467.01" width="45.3" height="8.16" rx="5.5" ry="4.08" fill="#FFFF33" stroke="#0a0a0a" stroke-width="0.95"/>
<rect x="192.25" y="467.01" width="45.3" height="8.16" rx="5.5" ry="4.08" fill="#B2B2FF" stroke="#0a0a0a" stroke-width="0.95"/>
<rect x="55.45" y="475.17" width="45.3" height="8.16" rx="5.5" ry="4.08" fill="#FFFF0D" stroke="#0a0a0a" stroke-width="0.95"/>
<rect x="101.05" y="475.17" width="45.3" height="8.16" rx="5.5" ry="4.08" fill="#8080FF" stroke="#0a0a0a" stroke-width="0.95"/>
<rect x="146.65" y="475.17" width="45.3" height="8.16" rx="5.5" ry="4.08" fill="#9999FF" stroke="#0a0a0a" stroke-width="0.95"/>
<rect x="192.25" y="475.17" width="45.3" height="8.16" rx="5.5" ry="4.08" fill="#E6E6FF" stroke="#0a0a0a" stroke-width="0.95"/>
<rect x="55.45" y="483.33" width="45.3" height="8.16" rx="5.5" ry="4.08" fill="#FFFF0D" stroke="#0a0a0a" stroke-width="0.95"/>
<rect x="101.05" y="483.33" width="45.3" height="8.16" rx="5.5" ry="4.08" fill="#8080FF" stroke="#0a0a0a" stroke-width="0.95"/>
<rect x="146.65" y="483.33" width="45.3" height="8.16" rx="5.5" ry="4.08" fill="#B2B2FF" stroke="#0a0a0a" stroke-width="0.95"/>
<rect x="192.25" y="483.33" width="45.3" height="8.16" rx="5.5" ry="4.08" fill="#B2B2FF" stroke="#0a0a0a" stroke-width="0.95"/>
<rect x="55.45" y="491.49" width="45.3" height="8.16" rx="5.5" ry="4.08" fill="#FFFF19" stroke="#0a0a0a" stroke-width="0.95"/>
<rect x="101.05" y="491.49" width="45.3" height="8.16" rx="5.5" ry="4.08" fill="#8C8CFF" stroke="#0a0a0a" stroke-width="0.95"/>
<rect x="146.65" y="491.49" width="45.3" height="8.16" rx="5.5" ry="4.08" fill="#9999FF" stroke="#0a0a0a" stroke-width="0.95"/>
<rect x="192.25" y="491.49" width="45.3" height="8.16" rx="5.5" ry="4.08" fill="#B2B2FF" stroke="#0a0a0a" stroke-width="0.95"/>
<rect x="55.45" y="499.65" width="45.3" height="8.16" rx="5.5" ry="4.08" fill="#FFFF00" stroke="#0a0a0a" stroke-width="0.95"/>
<rect x="101.05" y="499.65" width="45.3" height="8.16" rx="5.5" ry="4.08" fill="#E6E6FF" stroke="#0a0a0a" stroke-width="0.95"/>
<rect x="146.65" y="499.65" width="45.3" height="8.16" rx="5.5" ry="4.08" fill="#4040FF" stroke="#0a0a0a" stroke-width="0.95"/>
<rect x="192.25" y="499.65" width="45.3" height="8.16" rx="5.5" ry="4.08" fill="#D9D9FF" stroke="#0a0a0a" stroke-width="0.95"/>
<rect x="55.45" y="507.81" width="45.3" height="8.16" rx="5.5" ry="4.08" fill="#FFFF0D" stroke="#0a0a0a" stroke-width="0.95"/>
<rect x="101.05" y="507.81" width="45.3" height="8.16" rx="5.5" ry="4.08" fill="#E6E6FF" stroke="#0a0a0a" stroke-width="0.95"/>
<rect x="146.65" y="507.81" width="45.3" height="8.16" rx="5.5" ry="4.08" fill="#8C8CFF" stroke="#0a0a0a" stroke-width="0.95"/>
<rect x="192.25" y="507.81" width="45.3" height="8.16" rx="5.5" ry="4.08" fill="#8080FF" stroke="#0a0a0a" stroke-width="0.95"/>
<rect x="55.45" y="515.97" width="45.3" height="8.16" rx="5.5" ry="4.08" fill="#FFFF0D" stroke="#0a0a0a" stroke-width="0.95"/>
<rect x="101.05" y="515.97" width="45.3" height="8.16" rx="5.5" ry="4.08" fill="#4D4DFF" stroke="#0a0a0a" stroke-width="0.95"/>
<rect x="146.65" y="515.97" width="45.3" height="8.16" rx="5.5" ry="4.08" fill="#FFFFA6" stroke="#0a0a0a" stroke-width="0.95"/>
<rect x="192.25" y="515.97" width="45.3" height="8.16" rx="5.5" ry="4.08" fill="#9999FF" stroke="#0a0a0a" stroke-width="0.95"/>
<rect x="55.45" y="524.13" width="45.3" height="8.16" rx="5.5" ry="4.08" fill="#FFFF0D" stroke="#0a0a0a" stroke-width="0.95"/>
<rect x="101.05" y="524.13" width="45.3" height="8.16" rx="5.5" ry="4.08" fill="#5959FF" stroke="#0a0a0a" stroke-width="0.95"/>
<rect x="146.65" y="524.13" width="45.3" height="8.16" rx="5.5" ry="4.08" fill="#FFFFF2" stroke="#0a0a0a" stroke-width="0.95"/>
<rect x="192.25" y="524.13" width="45.3" height="8.16" rx="5.5" ry="4.08" fill="#A6A6FF" stroke="#0a0a0a" stroke-width="0.95"/>
<rect x="55.45" y="532.29" width="45.3" height="8.16" rx="5.5" ry="4.08" fill="#FFFF0D" stroke="#0a0a0a" stroke-width="0.95"/>
<rect x="101.05" y="532.29" width="45.3" height="8.16" rx="5.5" ry="4.08" fill="#5959FF" stroke="#0a0a0a" stroke-width="0.95"/>
<rect x="146.65" y="532.29" width="45.3" height="8.16" rx="5.5" ry="4.08" fill="#F2F2FF" stroke="#0a0a0a" stroke-width="0.95"/>
<rect x="192.25" y="532.29" width="45.3" height="8.16" rx="5.5" ry="4.08" fill="#B2B2FF" stroke="#0a0a0a" stroke-width="0.95"/>
<rect x="55.45" y="540.45" width="45.3" height="8.16" rx="5.5" ry="4.08" fill="#FFFF33" stroke="#0a0a0a" stroke-width="0.95"/>
<rect x="101.05" y="540.45" width="45.3" height="8.16" rx="5.5" ry="4.08" fill="#9999FF" stroke="#0a0a0a" stroke-width="0.95"/>
<rect x="146.65" y="540.45" width="45.3" height="8.16" rx="5.5" ry="4.08" fill="#FFFF80" stroke="#0a0a0a" stroke-width="0.95"/>
<rect x="192.25" y="540.45" width="45.3" height="8.16" rx="5.5" ry="4.08" fill="#4040FF" stroke="#0a0a0a" stroke-width="0.95"/>
<rect x="55.45" y="548.61" width="45.3" height="8.16" rx="5.5" ry="4.08" fill="#FFFF19" stroke="#0a0a0a" stroke-width="0.95"/>
<rect x="101.05" y="548.61" width="45.3" height="8.16" rx="5.5" ry="4.08" fill="#9999FF" stroke="#0a0a0a" stroke-width="0.95"/>
<rect x="146.65" y="548.61" width="45.3" height="8.16" rx="5.5" ry="4.08" fill="#FFFF99" stroke="#0a0a0a" stroke-width="0.95"/>
<rect x="192.25" y="548.61" width="45.3" height="8.16" rx="5.5" ry="4.08" fill="#4040FF" stroke="#0a0a0a" stroke-width="0.95"/>
<rect x="55.45" y="556.77" width="45.3" height="8.16" rx="5.5" ry="4.08" fill="#FFFF19" stroke="#0a0a0a" stroke-width="0.95"/>
<rect x="101.05" y="556.77" width="45.3" height="8.16" rx="5.5" ry="4.08" fill="#9999FF" stroke="#0a0a0a" stroke-width="0.95"/>
<rect x="146.65" y="556.77" width="45.3" height="8.16" rx="5.5" ry="4.08" fill="#FFFF99" stroke="#0a0a0a" stroke-width="0.95"/>
<rect x="192.25" y="556.77" width="45.3" height="8.16" rx="5.5" ry="4.08" fill="#4040FF" stroke="#0a0a0a" stroke-width="0.95"/>
<rect x="55.45" y="564.93" width="45.3" height="8.16" rx="5.5" ry="4.08" fill="#FFFF19" stroke="#0a0a0a" stroke-width="0.95"/>
<rect x="101.05" y="564.93" width="45.3" height="8.16" rx="5.5" ry="4.08" fill="#6666FF" stroke="#0a0a0a" stroke-width="0.95"/>
<rect x="146.65" y="564.93" width="45.3" height="8.16" rx="5.5" ry="4.08" fill="#FFFF99" stroke="#0a0a0a" stroke-width="0.95"/>
<rect x="192.25" y="564.93" width="45.3" height="8.16" rx="5.5" ry="4.08" fill="#6666FF" stroke="#0a0a0a" stroke-width="0.95"/>
<rect x="55.45" y="573.09" width="45.3" height="8.16" rx="5.5" ry="4.08" fill="#FFFF19" stroke="#0a0a0a" stroke-width="0.95"/>
<rect x="101.05" y="573.09" width="45.3" height="8.16" rx="5.5" ry="4.08" fill="#7373FF" stroke="#0a0a0a" stroke-width="0.95"/>
<rect x="146.65" y="573.09" width="45.3" height="8.16" rx="5.5" ry="4.08" fill="#FFFFB2" stroke="#0a0a0a" stroke-width="0.95"/>
<rect x="192.25" y="573.09" width="45.3" height="8.16" rx="5.5" ry="4.08" fill="#5959FF" stroke="#0a0a0a" stroke-width="0.95"/>
<rect x="55.45" y="581.25" width="45.3" height="8.16" rx="5.5" ry="4.08" fill="#FFFF19" stroke="#0a0a0a" stroke-width="0.95"/>
<rect x="101.05" y="581.25" width="45.3" height="8.16" rx="5.5" ry="4.08" fill="#8C8CFF" stroke="#0a0a0a" stroke-width="0.95"/>
<rect x="146.65" y="581.25" width="45.3" height="8.16" rx="5.5" ry="4.08" fill="#FFFFB2" stroke="#0a0a0a" stroke-width="0.95"/>
<rect x="192.25" y="581.25" width="45.3" height="8.16" rx="5.5" ry="4.08" fill="#4040FF" stroke="#0a0a0a" stroke-width="0.95"/>
<rect x="55.45" y="589.41" width="45.3" height="8.16" rx="5.5" ry="4.08" fill="#FFFF19" stroke="#0a0a0a" stroke-width="0.95"/>
<rect x="101.05" y="589.41" width="45.3" height="8.16" rx="5.5" ry="4.08" fill="#BFBFFF" stroke="#0a0a0a" stroke-width="0.95"/>
<rect x="146.65" y="589.41" width="45.3" height="8.16" rx="5.5" ry="4.08" fill="#E6E6FF" stroke="#0a0a0a" stroke-width="0.95"/>
<rect x="192.25" y="589.41" width="45.3" height="8.16" rx="5.5" ry="4.08" fill="#4D4DFF" stroke="#0a0a0a" stroke-width="0.95"/>
<rect x="55.45" y="597.57" width="45.3" height="8.16" rx="5.5" ry="4.08" fill="#FFFF00" stroke="#0a0a0a" stroke-width="0.95"/>
<rect x="101.05" y="597.57" width="45.3" height="8.16" rx="5.5" ry="4.08" fill="#CCCCFF" stroke="#0a0a0a" stroke-width="0.95"/>
<rect x="146.65" y="597.57" width="45.3" height="8.16" rx="5.5" ry="4.08" fill="#D9D9FF" stroke="#0a0a0a" stroke-width="0.95"/>
<rect x="192.25" y="597.57" width="45.3" height="8.16" rx="5.5" ry="4.08" fill="#5959FF" stroke="#0a0a0a" stroke-width="0.95"/>
<rect x="55.45" y="605.73" width="45.3" height="8.16" rx="5.5" ry="4.08" fill="#FFFF00" stroke="#0a0a0a" stroke-width="0.95"/>
<rect x="101.05" y="605.73" width="45.3" height="8.16" rx="5.5" ry="4.08" fill="#8080FF" stroke="#0a0a0a" stroke-width="0.95"/>
<rect x="146.65" y="605.73" width="45.3" height="8.16" rx="5.5" ry="4.08" fill="#E0E0FF" stroke="#0a0a0a" stroke-width="0.95"/>
<rect x="192.25" y="605.73" width="45.3" height="8.16" rx="5.5" ry="4.08" fill="#8C8CFF" stroke="#0a0a0a" stroke-width="0.95"/>
<rect x="55.45" y="613.89" width="45.3" height="8.16" rx="5.5" ry="4.08" fill="#FFFF00" stroke="#0a0a0a" stroke-width="0.95"/>
<rect x="101.05" y="613.89" width="45.3" height="8.16" rx="5.5" ry="4.08" fill="#8080FF" stroke="#0a0a0a" stroke-width="0.95"/>
<rect x="146.65" y="613.89" width="45.3" height="8.16" rx="5.5" ry="4.08" fill="#E0E0FF" stroke="#0a0a0a" stroke-width="0.95"/>
<rect x="192.25" y="613.89" width="45.3" height="8.16" rx="5.5" ry="4.08" fill="#8C8CFF" stroke="#0a0a0a" stroke-width="0.95"/>
<rect x="55.45" y="622.05" width="45.3" height="8.16" rx="5.5" ry="4.08" fill="#FFFF00" stroke="#0a0a0a" stroke-width="0.95"/>
<rect x="101.05" y="622.05" width="45.3" height="8.16" rx="5.5" ry="4.08" fill="#9999FF" stroke="#0a0a0a" stroke-width="0.95"/>
<rect x="146.65" y="622.05" width="45.3" height="8.16" rx="5.5" ry="4.08" fill="#E0E0FF" stroke="#0a0a0a" stroke-width="0.95"/>
<rect x="192.25" y="622.05" width="45.3" height="8.16" rx="5.5" ry="4.08" fill="#8080FF" stroke="#0a0a0a" stroke-width="0.95"/>
<rect x="55.45" y="630.2" width="45.3" height="8.16" rx="5.5" ry="4.08" fill="#FFFF00" stroke="#0a0a0a" stroke-width="0.95"/>
<rect x="101.05" y="630.2" width="45.3" height="8.16" rx="5.5" ry="4.08" fill="#9999FF" stroke="#0a0a0a" stroke-width="0.95"/>
<rect x="146.65" y="630.2" width="45.3" height="8.16" rx="5.5" ry="4.08" fill="#E0E0FF" stroke="#0a0a0a" stroke-width="0.95"/>
<rect x="192.25" y="630.2" width="45.3" height="8.16" rx="5.5" ry="4.08" fill="#8080FF" stroke="#0a0a0a" stroke-width="0.95"/>
<rect x="55.45" y="638.36" width="45.3" height="8.16" rx="5.5" ry="4.08" fill="#FFFFE6" stroke="#0a0a0a" stroke-width="0.95"/>
<rect x="101.05" y="638.36" width="45.3" height="8.16" rx="5.5" ry="4.08" fill="#FFFF19" stroke="#0a0a0a" stroke-width="0.95"/>
<rect x="146.65" y="638.36" width="45.3" height="8.16" rx="5.5" ry="4.08" fill="#A6A6FF" stroke="#0a0a0a" stroke-width="0.95"/>
<rect x="192.25" y="638.36" width="45.3" height="8.16" rx="5.5" ry="4.08" fill="#5959FF" stroke="#0a0a0a" stroke-width="0.95"/>
<rect x="55.45" y="646.52" width="45.3" height="8.16" rx="5.5" ry="4.08" fill="#FFFF8C" stroke="#0a0a0a" stroke-width="0.95"/>
<rect x="101.05" y="646.52" width="45.3" height="8.16" rx="5.5" ry="4.08" fill="#FFFF26" stroke="#0a0a0a" stroke-width="0.95"/>
<rect x="146.65" y="646.52" width="45.3" height="8.16" rx="5.5" ry="4.08" fill="#3333FF" stroke="#0a0a0a" stroke-width="0.95"/>
<rect x="192.25" y="646.52" width="45.3" height="8.16" rx="5.5" ry="4.08" fill="#A6A6FF" stroke="#0a0a0a" stroke-width="0.95"/>
<rect x="55.45" y="654.68" width="45.3" height="8.16" rx="5.5" ry="4.08" fill="#FFFF8C" stroke="#0a0a0a" stroke-width="0.95"/>
<rect x="101.05" y="654.68" width="45.3" height="8.16" rx="5.5" ry="4.08" fill="#FFFF26" stroke="#0a0a0a" stroke-width="0.95"/>
<rect x="146.65" y="654.68" width="45.3" height="8.16" rx="5.5" ry="4.08" fill="#6666FF" stroke="#0a0a0a" stroke-width="0.95"/>
<rect x="192.25" y="654.68" width="45.3" height="8.16" rx="5.5" ry="4.08" fill="#7373FF" stroke="#0a0a0a" stroke-width="0.95"/>
<rect x="55.45" y="662.84" width="45.3" height="8.16" rx="5.5" ry="4.08" fill="#A6A6FF" stroke="#0a0a0a" stroke-width="0.95"/>
<rect x="101.05" y="662.84" width="45.3" height="8.16" rx="5.5" ry="4.08" fill="#FFFF4D" stroke="#0a0a0a" stroke-width="0.95"/>
<rect x="146.65" y="662.84" width="45.3" height="8.16" rx="5.5" ry="4.08" fill="#3333FF" stroke="#0a0a0a" stroke-width="0.95"/>
<rect x="192.25" y="662.84" width="45.3" height="8.16" rx="5.5" ry="4.08" fill="#FFFF80" stroke="#0a0a0a" stroke-width="0.95"/>
<rect x="55.45" y="671" width="45.3" height="8.16" rx="5.5" ry="4.08" fill="#D9D9FF" stroke="#0a0a0a" stroke-width="0.95"/>
<rect x="101.05" y="671" width="45.3" height="8.16" rx="5.5" ry="4.08" fill="#FFFF33" stroke="#0a0a0a" stroke-width="0.95"/>
<rect x="146.65" y="671" width="45.3" height="8.16" rx="5.5" ry="4.08" fill="#2626FF" stroke="#0a0a0a" stroke-width="0.95"/>
<rect x="192.25" y="671" width="45.3" height="8.16" rx="5.5" ry="4.08" fill="#FFFFB2" stroke="#0a0a0a" stroke-width="0.95"/>
<rect x="55.45" y="679.16" width="45.3" height="8.16" rx="5.5" ry="4.08" fill="#D9D9FF" stroke="#0a0a0a" stroke-width="0.95"/>
<rect x="101.05" y="679.16" width="45.3" height="8.16" rx="5.5" ry="4.08" fill="#FFFF33" stroke="#0a0a0a" stroke-width="0.95"/>
<rect x="146.65" y="679.16" width="45.3" height="8.16" rx="5.5" ry="4.08" fill="#2626FF" stroke="#0a0a0a" stroke-width="0.95"/>
<rect x="192.25" y="679.16" width="45.3" height="8.16" rx="5.5" ry="4.08" fill="#FFFFBF" stroke="#0a0a0a" stroke-width="0.95"/>
<rect x="55.45" y="687.32" width="45.3" height="8.16" rx="5.5" ry="4.08" fill="#FFFF73" stroke="#0a0a0a" stroke-width="0.95"/>
<rect x="101.05" y="687.32" width="45.3" height="8.16" rx="5.5" ry="4.08" fill="#E6E6FF" stroke="#0a0a0a" stroke-width="0.95"/>
<rect x="146.65" y="687.32" width="45.3" height="8.16" rx="5.5" ry="4.08" fill="#1919FF" stroke="#0a0a0a" stroke-width="0.95"/>
<rect x="192.25" y="687.32" width="45.3" height="8.16" rx="5.5" ry="4.08" fill="#FFFF8C" stroke="#0a0a0a" stroke-width="0.95"/>
<rect x="55.45" y="695.48" width="45.3" height="8.16" rx="5.5" ry="4.08" fill="#FFFF8C" stroke="#0a0a0a" stroke-width="0.95"/>
<rect x="101.05" y="695.48" width="45.3" height="8.16" rx="5.5" ry="4.08" fill="#FFFF99" stroke="#0a0a0a" stroke-width="0.95"/>
<rect x="146.65" y="695.48" width="45.3" height="8.16" rx="5.5" ry="4.08" fill="#0000FF" stroke="#0a0a0a" stroke-width="0.95"/>
<rect x="192.25" y="695.48" width="45.3" height="8.16" rx="5.5" ry="4.08" fill="#FFFFCC" stroke="#0a0a0a" stroke-width="0.95"/>
<rect x="55.45" y="703.64" width="45.3" height="8.16" rx="5.5" ry="4.08" fill="#FFFF8C" stroke="#0a0a0a" stroke-width="0.95"/>
<rect x="101.05" y="703.64" width="45.3" height="8.16" rx="5.5" ry="4.08" fill="#FFFF99" stroke="#0a0a0a" stroke-width="0.95"/>
<rect x="146.65" y="703.64" width="45.3" height="8.16" rx="5.5" ry="4.08" fill="#0000FF" stroke="#0a0a0a" stroke-width="0.95"/>
<rect x="192.25" y="703.64" width="45.3" height="8.16" rx="5.5" ry="4.08" fill="#FFFFCC" stroke="#0a0a0a" stroke-width="0.95"/>
<g font-size="9" fill="#3c3c3c">
<text x="242.4" y="33.88">JrbZIP44</text>
<text x="242.4" y="42.04">JrbZIP1</text>
<text x="242.4" y="50.2">JrbZIP24</text>
<text x="242.4" y="58.36">JrbZIP30</text>
<text x="242.4" y="66.52">JrbZIP86</text>
<text x="242.4" y="74.68">JrbZIP71</text>
<text x="242.4" y="82.84">JrbZIP23</text>
<text x="242.4" y="91">JrbZIP57</text>
<text x="242.4" y="99.16">JrbZIP14</text>
<text x="242.4" y="107.32">JrbZIP43</text>
<text x="242.4" y="115.47">JrbZIP13</text>
<text x="242.4" y="123.63">JrbZIP49</text>
<text x="242.4" y="131.79">JrbZIP28</text>
<text x="242.4" y="139.95">JrbZIP38</text>
<text x="242.4" y="148.11">JrbZIP35</text>
<text x="242.4" y="156.27">JrbZIP84</text>
<text x="242.4" y="164.43">JrbZIP21</text>
<text x="242.4" y="172.59">JrbZIP62</text>
<text x="242.4" y="180.75">JrbZIP69</text>
<text x="242.4" y="188.91">JrbZIP47</text>
<text x="242.4" y="197.07">JrbZIP29</text>
<text x="242.4" y="205.23">JrbZIP87</text>
<text x="242.4" y="213.39">JrbZIP22</text>
<text x="242.4" y="221.55">JrbZIP45</text>
<text x="242.4" y="229.71">JrbZIP52</text>
<text x="242.4" y="237.87">JrbZIP75</text>
<text x="242.4" y="246.03">JrbZIP26</text>
<text x="242.4" y="254.19">JrbZIP32</text>
<text x="242.4" y="262.35">JrbZIP33</text>
<text x="242.4" y="270.51">JrbZIP50</text>
<text x="242.4" y="278.67">JrbZIP51</text>
<text x="242.4" y="286.82">JrbZIP61</text>
<text x="242.4" y="294.98">JrbZIP6</text>
<text x="242.4" y="303.14">JrbZIP76</text>
<text x="242.4" y="311.3">JrbZIP11</text>
<text x="242.4" y="319.46">JrbZIP2</text>
<text x="242.4" y="327.62">JrbZIP53</text>
<text x="242.4" y="335.78">JrbZIP55</text>
<text x="242.4" y="343.94">JrbZIP80</text>
<text x="242.4" y="352.1">JrbZIP7</text>
<text x="242.4" y="360.26">JrbZIP8</text>
<text x="242.4" y="368.42">JrbZIP65</text>
<text x="242.4" y="376.58">JrbZIP56</text>
<text x="242.4" y="384.74">JrbZIP70</text>
<text x="242.4" y="392.9">JrbZIP36</text>
<text x="242.4" y="401.06">JrbZIP37</text>
<text x="242.4" y="409.22">JrbZIP25</text>
<text x="242.4" y="417.38">JrbZIP9</text>
<text x="242.4" y="425.54">JrbZIP79</text>
<text x="242.4" y="433.7">JrbZIP68</text>
<text x="242.4" y="441.86">JrbZIP18</text>
<text x="242.4" y="450.02">JrbZIP74</text>
<text x="242.4" y="458.17">JrbZIP82</text>
<text x="242.4" y="466.33">JrbZIP41</text>
<text x="242.4" y="474.49">JrbZIP59</text>
<text x="242.4" y="482.65">JrbZIP81</text>
<text x="242.4" y="490.81">JrbZIP42</text>
<text x="242.4" y="498.97">JrbZIP67</text>
<text x="242.4" y="507.13">JrbZIP46</text>
<text x="242.4" y="515.29">JrbZIP48</text>
<text x="242.4" y="523.45">JrbZIP54</text>
<text x="242.4" y="531.61">JrbZIP15</text>
<text x="242.4" y="539.77">JrbZIP40</text>
<text x="242.4" y="547.93">JrbZIP12</text>
<text x="242.4" y="556.09">JrbZIP60</text>
<text x="242.4" y="564.25">JrbZIP72</text>
<text x="242.4" y="572.41">JrbZIP73</text>
<text x="242.4" y="580.57">JrbZIP27</text>
<text x="242.4" y="588.73">JrbZIP66</text>
<text x="242.4" y="596.89">JrbZIP31</text>
<text x="242.4" y="605.05">JrbZIP63</text>
<text x="242.4" y="613.21">JrbZIP4</text>
<text x="242.4" y="621.37">JrbZIP10</text>
<text x="242.4" y="629.52">JrbZIP5</text>
<text x="242.4" y="637.68">JrbZIP83</text>
<text x="242.4" y="645.84">JrbZIP58</text>
<text x="242.4" y="654">JrbZIP16</text>
<text x="242.4" y="662.16">JrbZIP77</text>
<text x="242.4" y="670.32">JrbZIP19</text>
<text x="242.4" y="678.48">JrbZIP3</text>
<text x="242.4" y="686.64">JrbZIP78</text>
<text x="242.4" y="694.8">JrbZIP88</text>
<text x="242.4" y="702.96">JrbZIP39</text>
<text x="242.4" y="711.12">JrbZIP85</text>
</g>
<g font-size="10.5" fill="#000" text-anchor="end">
<text transform="translate(85.9 719.6) rotate(-45)">F–1</text>
<text transform="translate(131.5 719.6) rotate(-45)">F–2</text>
<text transform="translate(177.1 719.6) rotate(-45)">F–3</text>
<text transform="translate(222.7 719.6) rotate(-45)">JRL</text>
</g>
<text x="6" y="18.1" font-size="18" fill="#000">A</text>
<path d="M479 28.78H457.7V36.94H479M479 69.56H468.35V77.72H479M479 61.41H464.8V73.64H468.35M479 53.25H461.25V67.53H464.8M479 45.09H457.7V60.39H461.25M457.7 32.86H454.15V52.74H457.7M479 85.88H457.7V94.04H479M479 110.35H461.25V118.51H479M479 102.19H457.7V114.43H461.25M457.7 89.96H454.15V108.31H457.7M454.15 42.8H450.6V99.13H454.15M479 126.66H461.25V134.82H479M479 151.14H464.8V159.29H479M479 142.98H461.25V155.21H464.8M461.25 130.74H457.7V149.1H461.25M479 167.45H461.25V175.61H479M479 183.76H461.25V191.92H479M461.25 171.53H457.7V187.84H461.25M457.7 139.92H454.15V179.69H457.7M479 200.08H457.7V208.24H479M479 216.39H461.25V224.55H479M479 249.02H475.45V257.18H479M479 265.34H475.45V273.49H479M475.45 253.1H471.9V269.41H475.45M479 281.65H471.9V289.81H479M471.9 261.26H468.35V285.73H471.9M479 240.86H464.8V273.49H468.35M479 232.71H461.25V257.18H464.8M461.25 220.47H457.7V244.94H461.25M457.7 204.16H454.15V232.71H457.7M454.15 159.8H450.6V218.43H454.15M450.6 70.97H447.05V189.12H450.6M479 314.28H454.15V322.44H479M479 306.12H450.6V318.36H454.15M479 297.96H447.05V312.24H450.6M447.05 130.04H443.5V305.1H447.05M479 330.59H447.05V338.75H479M479 355.06H457.7V363.22H479M479 346.91H454.15V359.14H457.7M479 371.38H461.25V379.54H479M479 387.69H461.25V395.85H479M461.25 375.46H457.7V391.77H461.25M479 404.01H457.7V412.16H479M457.7 383.61H454.15V408.09H457.7M454.15 353.02H450.6V395.85H454.15M479 436.64H464.8V444.79H479M479 428.48H461.25V440.71H464.8M479 420.32H457.7V434.6H461.25M479 452.95H461.25V461.11H479M479 469.26H461.25V477.42H479M461.25 457.03H457.7V473.34H461.25M457.7 427.46H454.15V465.19H457.7M479 501.89H464.8V510.05H479M479 493.74H461.25V505.97H464.8M479 485.58H457.7V499.85H461.25M479 518.21H457.7V526.36H479M457.7 492.72H454.15V522.29H457.7M454.15 446.32H450.6V507.5H454.15M450.6 374.44H447.05V476.91H450.6M447.05 334.67H443.5V425.67H447.05M443.5 217.57H439.95V380.17H443.5M479 534.52H447.05V542.68H479M479 550.84H450.6V558.99H479M479 575.31H454.15V583.46H479M479 567.15H450.6V579.39H454.15M450.6 554.91H447.05V573.27H450.6M447.05 538.6H443.5V564.09H447.05M479 591.62H447.05V599.78H479M479 616.09H457.7V624.25H479M479 607.94H454.15V620.17H457.7M479 632.41H454.15V640.56H479M454.15 614.05H450.6V636.49H454.15M479 648.72H454.15V656.88H479M479 673.19H461.25V681.35H479M479 665.04H457.7V677.27H461.25M479 697.66H461.25V705.82H479M479 689.51H457.7V701.74H461.25M457.7 671.15H454.15V695.62H457.7M454.15 652.8H450.6V683.39H454.15M450.6 625.27H447.05V668.09H450.6M447.05 595.7H443.5V646.68H447.05M443.5 551.35H439.95V621.19H443.5M439.95 298.87H436.4V586.27H439.95" fill="none" stroke="#606060" stroke-width="1.15"/>
<rect x="479" y="24.7" width="7.3" height="8.18" fill="#5B4890"/>
<rect x="479" y="32.86" width="7.3" height="8.18" fill="#008A7B"/>
<rect x="479" y="41.01" width="7.3" height="8.18" fill="#E8001C"/>
<rect x="479" y="49.17" width="7.3" height="8.18" fill="#008A7B"/>
<rect x="479" y="57.33" width="7.3" height="8.18" fill="#008A7B"/>
<rect x="479" y="65.49" width="7.3" height="8.18" fill="#008A7B"/>
<rect x="479" y="73.64" width="7.3" height="8.18" fill="#008A7B"/>
<rect x="479" y="81.8" width="7.3" height="8.18" fill="#F99A1A"/>
<rect x="479" y="89.96" width="7.3" height="8.18" fill="#4EC38E"/>
<rect x="479" y="98.11" width="7.3" height="8.18" fill="#A4D47E"/>
<rect x="479" y="106.27" width="7.3" height="8.18" fill="#5B4890"/>
<rect x="479" y="114.43" width="7.3" height="8.18" fill="#5B4890"/>
<rect x="479" y="122.59" width="7.3" height="8.18" fill="#9894B8"/>
<rect x="479" y="130.74" width="7.3" height="8.18" fill="#6DB33F"/>
<rect x="479" y="138.9" width="7.3" height="8.18" fill="#6DB33F"/>
<rect x="479" y="147.06" width="7.3" height="8.18" fill="#E8001C"/>
<rect x="479" y="155.21" width="7.3" height="8.18" fill="#5B4890"/>
<rect x="479" y="163.37" width="7.3" height="8.18" fill="#008A7B"/>
<rect x="479" y="171.53" width="7.3" height="8.18" fill="#6DB33F"/>
<rect x="479" y="179.69" width="7.3" height="8.18" fill="#9894B8"/>
<rect x="479" y="187.84" width="7.3" height="8.18" fill="#E8001C"/>
<rect x="479" y="196" width="7.3" height="8.18" fill="#4EC38E"/>
<rect x="479" y="204.16" width="7.3" height="8.18" fill="#A4D47E"/>
<rect x="479" y="212.31" width="7.3" height="8.18" fill="#FBB88E"/>
<rect x="479" y="220.47" width="7.3" height="8.18" fill="#6DB33F"/>
<rect x="479" y="228.63" width="7.3" height="8.18" fill="#5B4890"/>
<rect x="479" y="236.79" width="7.3" height="8.18" fill="#E9557F"/>
<rect x="479" y="244.94" width="7.3" height="8.18" fill="#6DB33F"/>
<rect x="479" y="253.1" width="7.3" height="8.18" fill="#6DB33F"/>
<rect x="479" y="261.26" width="7.3" height="8.18" fill="#6DB33F"/>
<rect x="479" y="269.41" width="7.3" height="8.18" fill="#008A7B"/>
<rect x="479" y="277.57" width="7.3" height="8.18" fill="#FBB88E"/>
<rect x="479" y="285.73" width="7.3" height="8.18" fill="#008A7B"/>
<rect x="479" y="293.89" width="7.3" height="8.18" fill="#E9557F"/>
<rect x="479" y="302.04" width="7.3" height="8.18" fill="#5B4890"/>
<rect x="479" y="310.2" width="7.3" height="8.18" fill="#E8001C"/>
<rect x="479" y="318.36" width="7.3" height="8.18" fill="#4EC38E"/>
<rect x="479" y="326.51" width="7.3" height="8.18" fill="#6DB33F"/>
<rect x="479" y="334.67" width="7.3" height="8.18" fill="#F99A1A"/>
<rect x="479" y="342.83" width="7.3" height="8.18" fill="#E8001C"/>
<rect x="479" y="350.99" width="7.3" height="8.18" fill="#4EC38E"/>
<rect x="479" y="359.14" width="7.3" height="8.18" fill="#6DB33F"/>
<rect x="479" y="367.3" width="7.3" height="8.18" fill="#4EC38E"/>
<rect x="479" y="375.46" width="7.3" height="8.18" fill="#4EC38E"/>
<rect x="479" y="383.61" width="7.3" height="8.18" fill="#4EC38E"/>
<rect x="479" y="391.77" width="7.3" height="8.18" fill="#6DB33F"/>
<rect x="479" y="399.93" width="7.3" height="8.18" fill="#008A7B"/>
<rect x="479" y="408.09" width="7.3" height="8.18" fill="#6DB33F"/>
<rect x="479" y="416.24" width="7.3" height="8.18" fill="#4EC38E"/>
<rect x="479" y="424.4" width="7.3" height="8.18" fill="#E9557F"/>
<rect x="479" y="432.56" width="7.3" height="8.18" fill="#4EC38E"/>
<rect x="479" y="440.71" width="7.3" height="8.18" fill="#4EC38E"/>
<rect x="479" y="448.87" width="7.3" height="8.18" fill="#E9557F"/>
<rect x="479" y="457.03" width="7.3" height="8.18" fill="#6DB33F"/>
<rect x="479" y="465.19" width="7.3" height="8.18" fill="#4EC38E"/>
<rect x="479" y="473.34" width="7.3" height="8.18" fill="#4EC38E"/>
<rect x="479" y="481.5" width="7.3" height="8.18" fill="#A4D47E"/>
<rect x="479" y="489.66" width="7.3" height="8.18" fill="#5B4890"/>
<rect x="479" y="497.81" width="7.3" height="8.18" fill="#6DB33F"/>
<rect x="479" y="505.97" width="7.3" height="8.18" fill="#5B4890"/>
<rect x="479" y="514.13" width="7.3" height="8.18" fill="#F99A1A"/>
<rect x="479" y="522.29" width="7.3" height="8.18" fill="#4EC38E"/>
<rect x="479" y="530.44" width="7.3" height="8.18" fill="#6DB33F"/>
<rect x="479" y="538.6" width="7.3" height="8.18" fill="#008A7B"/>
<rect x="479" y="546.76" width="7.3" height="8.18" fill="#9894B8"/>
<rect x="479" y="554.91" width="7.3" height="8.18" fill="#4EC38E"/>
<rect x="479" y="563.07" width="7.3" height="8.18" fill="#008A7B"/>
<rect x="479" y="571.23" width="7.3" height="8.18" fill="#6DB33F"/>
<rect x="479" y="579.39" width="7.3" height="8.18" fill="#6DB33F"/>
<rect x="479" y="587.54" width="7.3" height="8.18" fill="#A4D47E"/>
<rect x="479" y="595.7" width="7.3" height="8.18" fill="#7E8B74"/>
<rect x="479" y="603.86" width="7.3" height="8.18" fill="#5B4890"/>
<rect x="479" y="612.01" width="7.3" height="8.18" fill="#5B4890"/>
<rect x="479" y="620.17" width="7.3" height="8.18" fill="#7E8B74"/>
<rect x="479" y="628.33" width="7.3" height="8.18" fill="#4EC38E"/>
<rect x="479" y="636.49" width="7.3" height="8.18" fill="#4EC38E"/>
<rect x="479" y="644.64" width="7.3" height="8.18" fill="#6DB33F"/>
<rect x="479" y="652.8" width="7.3" height="8.18" fill="#F9C80E"/>
<rect x="479" y="660.96" width="7.3" height="8.18" fill="#E8001C"/>
<rect x="479" y="669.11" width="7.3" height="8.18" fill="#E9557F"/>
<rect x="479" y="677.27" width="7.3" height="8.18" fill="#008A7B"/>
<rect x="479" y="685.43" width="7.3" height="8.18" fill="#008A7B"/>
<rect x="479" y="693.59" width="7.3" height="8.18" fill="#F9C80E"/>
<rect x="479" y="701.74" width="7.3" height="8.18" fill="#A4D47E"/>
<rect x="486.45" y="24.7" width="31.27" height="8.16" rx="5.5" ry="4.08" fill="#A6A6FF" stroke="#0a0a0a" stroke-width="0.95"/>
<rect x="518.02" y="24.7" width="31.27" height="8.16" rx="5.5" ry="4.08" fill="#4D4DFF" stroke="#0a0a0a" stroke-width="0.95"/>
<rect x="549.59" y="24.7" width="31.27" height="8.16" rx="5.5" ry="4.08" fill="#B2B2FF" stroke="#0a0a0a" stroke-width="0.95"/>
<rect x="581.16" y="24.7" width="31.27" height="8.16" rx="5.5" ry="4.08" fill="#FFFF80" stroke="#0a0a0a" stroke-width="0.95"/>
<rect x="612.73" y="24.7" width="31.27" height="8.16" rx="5.5" ry="4.08" fill="#FFFF73" stroke="#0a0a0a" stroke-width="0.95"/>
<rect x="644.3" y="24.7" width="31.27" height="8.16" rx="5.5" ry="4.08" fill="#FFFFF2" stroke="#0a0a0a" stroke-width="0.95"/>
<rect x="486.45" y="32.86" width="31.27" height="8.16" rx="5.5" ry="4.08" fill="#E6E6FF" stroke="#0a0a0a" stroke-width="0.95"/>
<rect x="518.02" y="32.86" width="31.27" height="8.16" rx="5.5" ry="4.08" fill="#5959FF" stroke="#0a0a0a" stroke-width="0.95"/>
<rect x="549.59" y="32.86" width="31.27" height="8.16" rx="5.5" ry="4.08" fill="#8080FF" stroke="#0a0a0a" stroke-width="0.95"/>
<rect x="581.16" y="32.86" width="31.27" height="8.16" rx="5.5" ry="4.08" fill="#FFFF80" stroke="#0a0a0a" stroke-width="0.95"/>
<rect x="612.73" y="32.86" width="31.27" height="8.16" rx="5.5" ry="4.08" fill="#FFFF66" stroke="#0a0a0a" stroke-width="0.95"/>
<rect x="644.3" y="32.86" width="31.27" height="8.16" rx="5.5" ry="4.08" fill="#FFFFE6" stroke="#0a0a0a" stroke-width="0.95"/>
<rect x="486.45" y="41.01" width="31.27" height="8.16" rx="5.5" ry="4.08" fill="#A6A6FF" stroke="#0a0a0a" stroke-width="0.95"/>
<rect x="518.02" y="41.01" width="31.27" height="8.16" rx="5.5" ry="4.08" fill="#2626FF" stroke="#0a0a0a" stroke-width="0.95"/>
<rect x="549.59" y="41.01" width="31.27" height="8.16" rx="5.5" ry="4.08" fill="#E6E6FF" stroke="#0a0a0a" stroke-width="0.95"/>
<rect x="581.16" y="41.01" width="31.27" height="8.16" rx="5.5" ry="4.08" fill="#FFFF80" stroke="#0a0a0a" stroke-width="0.95"/>
<rect x="612.73" y="41.01" width="31.27" height="8.16" rx="5.5" ry="4.08" fill="#FFFFA6" stroke="#0a0a0a" stroke-width="0.95"/>
<rect x="644.3" y="41.01" width="31.27" height="8.16" rx="5.5" ry="4.08" fill="#FFFF80" stroke="#0a0a0a" stroke-width="0.95"/>
<rect x="486.45" y="49.17" width="31.27" height="8.16" rx="5.5" ry="4.08" fill="#E0E0FF" stroke="#0a0a0a" stroke-width="0.95"/>
<rect x="518.02" y="49.17" width="31.27" height="8.16" rx="5.5" ry="4.08" fill="#4040FF" stroke="#0a0a0a" stroke-width="0.95"/>
<rect x="549.59" y="49.17" width="31.27" height="8.16" rx="5.5" ry="4.08" fill="#8C8CFF" stroke="#0a0a0a" stroke-width="0.95"/>
<rect x="581.16" y="49.17" width="31.27" height="8.16" rx="5.5" ry="4.08" fill="#FFFF80" stroke="#0a0a0a" stroke-width="0.95"/>
<rect x="612.73" y="49.17" width="31.27" height="8.16" rx="5.5" ry="4.08" fill="#FFFFCC" stroke="#0a0a0a" stroke-width="0.95"/>
<rect x="644.3" y="49.17" width="31.27" height="8.16" rx="5.5" ry="4.08" fill="#FFFF66" stroke="#0a0a0a" stroke-width="0.95"/>
<rect x="486.45" y="57.33" width="31.27" height="8.16" rx="5.5" ry="4.08" fill="#EBEBFF" stroke="#0a0a0a" stroke-width="0.95"/>
<rect x="518.02" y="57.33" width="31.27" height="8.16" rx="5.5" ry="4.08" fill="#2626FF" stroke="#0a0a0a" stroke-width="0.95"/>
<rect x="549.59" y="57.33" width="31.27" height="8.16" rx="5.5" ry="4.08" fill="#A6A6FF" stroke="#0a0a0a" stroke-width="0.95"/>
<rect x="581.16" y="57.33" width="31.27" height="8.16" rx="5.5" ry="4.08" fill="#FFFF80" stroke="#0a0a0a" stroke-width="0.95"/>
<rect x="612.73" y="57.33" width="31.27" height="8.16" rx="5.5" ry="4.08" fill="#FFFFB2" stroke="#0a0a0a" stroke-width="0.95"/>
<rect x="644.3" y="57.33" width="31.27" height="8.16" rx="5.5" ry="4.08" fill="#FFFF66" stroke="#0a0a0a" stroke-width="0.95"/>
<rect x="486.45" y="65.49" width="31.27" height="8.16" rx="5.5" ry="4.08" fill="#BFBFFF" stroke="#0a0a0a" stroke-width="0.95"/>
<rect x="518.02" y="65.49" width="31.27" height="8.16" rx="5.5" ry="4.08" fill="#3333FF" stroke="#0a0a0a" stroke-width="0.95"/>
<rect x="549.59" y="65.49" width="31.27" height="8.16" rx="5.5" ry="4.08" fill="#B2B2FF" stroke="#0a0a0a" stroke-width="0.95"/>
<rect x="581.16" y="65.49" width="31.27" height="8.16" rx="5.5" ry="4.08" fill="#FFFF80" stroke="#0a0a0a" stroke-width="0.95"/>
<rect x="612.73" y="65.49" width="31.27" height="8.16" rx="5.5" ry="4.08" fill="#FFFFB2" stroke="#0a0a0a" stroke-width="0.95"/>
<rect x="644.3" y="65.49" width="31.27" height="8.16" rx="5.5" ry="4.08" fill="#FFFF66" stroke="#0a0a0a" stroke-width="0.95"/>
<rect x="486.45" y="73.64" width="31.27" height="8.16" rx="5.5" ry="4.08" fill="#B2B2FF" stroke="#0a0a0a" stroke-width="0.95"/>
<rect x="518.02" y="73.64" width="31.27" height="8.16" rx="5.5" ry="4.08" fill="#4040FF" stroke="#0a0a0a" stroke-width="0.95"/>
<rect x="549.59" y="73.64" width="31.27" height="8.16" rx="5.5" ry="4.08" fill="#B2B2FF" stroke="#0a0a0a" stroke-width="0.95"/>
<rect x="581.16" y="73.64" width="31.27" height="8.16" rx="5.5" ry="4.08" fill="#FFFF80" stroke="#0a0a0a" stroke-width="0.95"/>
<rect x="612.73" y="73.64" width="31.27" height="8.16" rx="5.5" ry="4.08" fill="#FFFFB2" stroke="#0a0a0a" stroke-width="0.95"/>
<rect x="644.3" y="73.64" width="31.27" height="8.16" rx="5.5" ry="4.08" fill="#FFFF66" stroke="#0a0a0a" stroke-width="0.95"/>
<rect x="486.45" y="81.8" width="31.27" height="8.16" rx="5.5" ry="4.08" fill="#CCCCFF" stroke="#0a0a0a" stroke-width="0.95"/>
<rect x="518.02" y="81.8" width="31.27" height="8.16" rx="5.5" ry="4.08" fill="#3333FF" stroke="#0a0a0a" stroke-width="0.95"/>
<rect x="549.59" y="81.8" width="31.27" height="8.16" rx="5.5" ry="4.08" fill="#FFFFF2" stroke="#0a0a0a" stroke-width="0.95"/>
<rect x="581.16" y="81.8" width="31.27" height="8.16" rx="5.5" ry="4.08" fill="#CCCCFF" stroke="#0a0a0a" stroke-width="0.95"/>
<rect x="612.73" y="81.8" width="31.27" height="8.16" rx="5.5" ry="4.08" fill="#FFFF80" stroke="#0a0a0a" stroke-width="0.95"/>
<rect x="644.3" y="81.8" width="31.27" height="8.16" rx="5.5" ry="4.08" fill="#FFFF66" stroke="#0a0a0a" stroke-width="0.95"/>
<rect x="486.45" y="89.96" width="31.27" height="8.16" rx="5.5" ry="4.08" fill="#9999FF" stroke="#0a0a0a" stroke-width="0.95"/>
<rect x="518.02" y="89.96" width="31.27" height="8.16" rx="5.5" ry="4.08" fill="#4D4DFF" stroke="#0a0a0a" stroke-width="0.95"/>
<rect x="549.59" y="89.96" width="31.27" height="8.16" rx="5.5" ry="4.08" fill="#B2B2FF" stroke="#0a0a0a" stroke-width="0.95"/>
<rect x="581.16" y="89.96" width="31.27" height="8.16" rx="5.5" ry="4.08" fill="#FFFFD9" stroke="#0a0a0a" stroke-width="0.95"/>
<rect x="612.73" y="89.96" width="31.27" height="8.16" rx="5.5" ry="4.08" fill="#FFFF66" stroke="#0a0a0a" stroke-width="0.95"/>
<rect x="644.3" y="89.96" width="31.27" height="8.16" rx="5.5" ry="4.08" fill="#FFFF66" stroke="#0a0a0a" stroke-width="0.95"/>
<rect x="486.45" y="98.11" width="31.27" height="8.16" rx="5.5" ry="4.08" fill="#BFBFFF" stroke="#0a0a0a" stroke-width="0.95"/>
<rect x="518.02" y="98.11" width="31.27" height="8.16" rx="5.5" ry="4.08" fill="#0D0DFF" stroke="#0a0a0a" stroke-width="0.95"/>
<rect x="549.59" y="98.11" width="31.27" height="8.16" rx="5.5" ry="4.08" fill="#FFFF99" stroke="#0a0a0a" stroke-width="0.95"/>
<rect x="581.16" y="98.11" width="31.27" height="8.16" rx="5.5" ry="4.08" fill="#FFFF80" stroke="#0a0a0a" stroke-width="0.95"/>
<rect x="612.73" y="98.11" width="31.27" height="8.16" rx="5.5" ry="4.08" fill="#FFFFF2" stroke="#0a0a0a" stroke-width="0.95"/>
<rect x="644.3" y="98.11" width="31.27" height="8.16" rx="5.5" ry="4.08" fill="#FFFFB2" stroke="#0a0a0a" stroke-width="0.95"/>
<rect x="486.45" y="106.27" width="31.27" height="8.16" rx="5.5" ry="4.08" fill="#CCCCFF" stroke="#0a0a0a" stroke-width="0.95"/>
<rect x="518.02" y="106.27" width="31.27" height="8.16" rx="5.5" ry="4.08" fill="#1919FF" stroke="#0a0a0a" stroke-width="0.95"/>
<rect x="549.59" y="106.27" width="31.27" height="8.16" rx="5.5" ry="4.08" fill="#D9D9FF" stroke="#0a0a0a" stroke-width="0.95"/>
<rect x="581.16" y="106.27" width="31.27" height="8.16" rx="5.5" ry="4.08" fill="#FFFF80" stroke="#0a0a0a" stroke-width="0.95"/>
<rect x="612.73" y="106.27" width="31.27" height="8.16" rx="5.5" ry="4.08" fill="#FFFFFF" stroke="#0a0a0a" stroke-width="0.95"/>
<rect x="644.3" y="106.27" width="31.27" height="8.16" rx="5.5" ry="4.08" fill="#FFFF66" stroke="#0a0a0a" stroke-width="0.95"/>
<rect x="486.45" y="114.43" width="31.27" height="8.16" rx="5.5" ry="4.08" fill="#FFFFF2" stroke="#0a0a0a" stroke-width="0.95"/>
<rect x="518.02" y="114.43" width="31.27" height="8.16" rx="5.5" ry="4.08" fill="#1919FF" stroke="#0a0a0a" stroke-width="0.95"/>
<rect x="549.59" y="114.43" width="31.27" height="8.16" rx="5.5" ry="4.08" fill="#E6E6FF" stroke="#0a0a0a" stroke-width="0.95"/>
<rect x="581.16" y="114.43" width="31.27" height="8.16" rx="5.5" ry="4.08" fill="#FFFF80" stroke="#0a0a0a" stroke-width="0.95"/>
<rect x="612.73" y="114.43" width="31.27" height="8.16" rx="5.5" ry="4.08" fill="#EBEBFF" stroke="#0a0a0a" stroke-width="0.95"/>
<rect x="644.3" y="114.43" width="31.27" height="8.16" rx="5.5" ry="4.08" fill="#FFFF66" stroke="#0a0a0a" stroke-width="0.95"/>
<rect x="486.45" y="122.59" width="31.27" height="8.16" rx="5.5" ry="4.08" fill="#FFFFB2" stroke="#0a0a0a" stroke-width="0.95"/>
<rect x="518.02" y="122.59" width="31.27" height="8.16" rx="5.5" ry="4.08" fill="#2626FF" stroke="#0a0a0a" stroke-width="0.95"/>
<rect x="549.59" y="122.59" width="31.27" height="8.16" rx="5.5" ry="4.08" fill="#D9D9FF" stroke="#0a0a0a" stroke-width="0.95"/>
<rect x="581.16" y="122.59" width="31.27" height="8.16" rx="5.5" ry="4.08" fill="#FFFFA6" stroke="#0a0a0a" stroke-width="0.95"/>
<rect x="612.73" y="122.59" width="31.27" height="8.16" rx="5.5" ry="4.08" fill="#A6A6FF" stroke="#0a0a0a" stroke-width="0.95"/>
<rect x="644.3" y="122.59" width="31.27" height="8.16" rx="5.5" ry="4.08" fill="#FFFF73" stroke="#0a0a0a" stroke-width="0.95"/>
<rect x="486.45" y="130.74" width="31.27" height="8.16" rx="5.5" ry="4.08" fill="#FFFF8C" stroke="#0a0a0a" stroke-width="0.95"/>
<rect x="518.02" y="130.74" width="31.27" height="8.16" rx="5.5" ry="4.08" fill="#3333FF" stroke="#0a0a0a" stroke-width="0.95"/>
<rect x="549.59" y="130.74" width="31.27" height="8.16" rx="5.5" ry="4.08" fill="#EBEBFF" stroke="#0a0a0a" stroke-width="0.95"/>
<rect x="581.16" y="130.74" width="31.27" height="8.16" rx="5.5" ry="4.08" fill="#FFFF66" stroke="#0a0a0a" stroke-width="0.95"/>
<rect x="612.73" y="130.74" width="31.27" height="8.16" rx="5.5" ry="4.08" fill="#A6A6FF" stroke="#0a0a0a" stroke-width="0.95"/>
<rect x="644.3" y="130.74" width="31.27" height="8.16" rx="5.5" ry="4.08" fill="#FFFFA6" stroke="#0a0a0a" stroke-width="0.95"/>
<rect x="486.45" y="138.9" width="31.27" height="8.16" rx="5.5" ry="4.08" fill="#FFFF8C" stroke="#0a0a0a" stroke-width="0.95"/>
<rect x="518.02" y="138.9" width="31.27" height="8.16" rx="5.5" ry="4.08" fill="#0D0DFF" stroke="#0a0a0a" stroke-width="0.95"/>
<rect x="549.59" y="138.9" width="31.27" height="8.16" rx="5.5" ry="4.08" fill="#FAFAFF" stroke="#0a0a0a" stroke-width="0.95"/>
<rect x="581.16" y="138.9" width="31.27" height="8.16" rx="5.5" ry="4.08" fill="#FFFF99" stroke="#0a0a0a" stroke-width="0.95"/>
<rect x="612.73" y="138.9" width="31.27" height="8.16" rx="5.5" ry="4.08" fill="#D9D9FF" stroke="#0a0a0a" stroke-width="0.95"/>
<rect x="644.3" y="138.9" width="31.27" height="8.16" rx="5.5" ry="4.08" fill="#FFFFB2" stroke="#0a0a0a" stroke-width="0.95"/>
<rect x="486.45" y="147.06" width="31.27" height="8.16" rx="5.5" ry="4.08" fill="#FFFFB2" stroke="#0a0a0a" stroke-width="0.95"/>
<rect x="518.02" y="147.06" width="31.27" height="8.16" rx="5.5" ry="4.08" fill="#0D0DFF" stroke="#0a0a0a" stroke-width="0.95"/>
<rect x="549.59" y="147.06" width="31.27" height="8.16" rx="5.5" ry="4.08" fill="#F2F2FF" stroke="#0a0a0a" stroke-width="0.95"/>
<rect x="581.16" y="147.06" width="31.27" height="8.16" rx="5.5" ry="4.08" fill="#FFFF8C" stroke="#0a0a0a" stroke-width="0.95"/>
<rect x="612.73" y="147.06" width="31.27" height="8.16" rx="5.5" ry="4.08" fill="#F7F7FF" stroke="#0a0a0a" stroke-width="0.95"/>
<rect x="644.3" y="147.06" width="31.27" height="8.16" rx="5.5" ry="4.08" fill="#FFFF8C" stroke="#0a0a0a" stroke-width="0.95"/>
<rect x="486.45" y="155.21" width="31.27" height="8.16" rx="5.5" ry="4.08" fill="#FFFFBF" stroke="#0a0a0a" stroke-width="0.95"/>
<rect x="518.02" y="155.21" width="31.27" height="8.16" rx="5.5" ry="4.08" fill="#0D0DFF" stroke="#0a0a0a" stroke-width="0.95"/>
<rect x="549.59" y="155.21" width="31.27" height="8.16" rx="5.5" ry="4.08" fill="#F2F2FF" stroke="#0a0a0a" stroke-width="0.95"/>
<rect x="581.16" y="155.21" width="31.27" height="8.16" rx="5.5" ry="4.08" fill="#FFFF66" stroke="#0a0a0a" stroke-width="0.95"/>
<rect x="612.73" y="155.21" width="31.27" height="8.16" rx="5.5" ry="4.08" fill="#E6E6FF" stroke="#0a0a0a" stroke-width="0.95"/>
<rect x="644.3" y="155.21" width="31.27" height="8.16" rx="5.5" ry="4.08" fill="#FFFF8C" stroke="#0a0a0a" stroke-width="0.95"/>
<rect x="486.45" y="163.37" width="31.27" height="8.16" rx="5.5" ry="4.08" fill="#FFFF8C" stroke="#0a0a0a" stroke-width="0.95"/>
<rect x="518.02" y="163.37" width="31.27" height="8.16" rx="5.5" ry="4.08" fill="#2626FF" stroke="#0a0a0a" stroke-width="0.95"/>
<rect x="549.59" y="163.37" width="31.27" height="8.16" rx="5.5" ry="4.08" fill="#B2B2FF" stroke="#0a0a0a" stroke-width="0.95"/>
<rect x="581.16" y="163.37" width="31.27" height="8.16" rx="5.5" ry="4.08" fill="#FFFFB2" stroke="#0a0a0a" stroke-width="0.95"/>
<rect x="612.73" y="163.37" width="31.27" height="8.16" rx="5.5" ry="4.08" fill="#FFFFFF" stroke="#0a0a0a" stroke-width="0.95"/>
<rect x="644.3" y="163.37" width="31.27" height="8.16" rx="5.5" ry="4.08" fill="#FFFF73" stroke="#0a0a0a" stroke-width="0.95"/>
<rect x="486.45" y="171.53" width="31.27" height="8.16" rx="5.5" ry="4.08" fill="#FFFF8C" stroke="#0a0a0a" stroke-width="0.95"/>
<rect x="518.02" y="171.53" width="31.27" height="8.16" rx="5.5" ry="4.08" fill="#2626FF" stroke="#0a0a0a" stroke-width="0.95"/>
<rect x="549.59" y="171.53" width="31.27" height="8.16" rx="5.5" ry="4.08" fill="#9999FF" stroke="#0a0a0a" stroke-width="0.95"/>
<rect x="581.16" y="171.53" width="31.27" height="8.16" rx="5.5" ry="4.08" fill="#FFFF66" stroke="#0a0a0a" stroke-width="0.95"/>
<rect x="612.73" y="171.53" width="31.27" height="8.16" rx="5.5" ry="4.08" fill="#FFFFFF" stroke="#0a0a0a" stroke-width="0.95"/>
<rect x="644.3" y="171.53" width="31.27" height="8.16" rx="5.5" ry="4.08" fill="#FFFF66" stroke="#0a0a0a" stroke-width="0.95"/>
<rect x="486.45" y="179.69" width="31.27" height="8.16" rx="5.5" ry="4.08" fill="#FFFF99" stroke="#0a0a0a" stroke-width="0.95"/>
<rect x="518.02" y="179.69" width="31.27" height="8.16" rx="5.5" ry="4.08" fill="#0D0DFF" stroke="#0a0a0a" stroke-width="0.95"/>
<rect x="549.59" y="179.69" width="31.27" height="8.16" rx="5.5" ry="4.08" fill="#BFBFFF" stroke="#0a0a0a" stroke-width="0.95"/>
<rect x="581.16" y="179.69" width="31.27" height="8.16" rx="5.5" ry="4.08" fill="#FFFF8C" stroke="#0a0a0a" stroke-width="0.95"/>
<rect x="612.73" y="179.69" width="31.27" height="8.16" rx="5.5" ry="4.08" fill="#FFFFBF" stroke="#0a0a0a" stroke-width="0.95"/>
<rect x="644.3" y="179.69" width="31.27" height="8.16" rx="5.5" ry="4.08" fill="#FFFF80" stroke="#0a0a0a" stroke-width="0.95"/>
<rect x="486.45" y="187.84" width="31.27" height="8.16" rx="5.5" ry="4.08" fill="#FFFF80" stroke="#0a0a0a" stroke-width="0.95"/>
<rect x="518.02" y="187.84" width="31.27" height="8.16" rx="5.5" ry="4.08" fill="#0D0DFF" stroke="#0a0a0a" stroke-width="0.95"/>
<rect x="549.59" y="187.84" width="31.27" height="8.16" rx="5.5" ry="4.08" fill="#D9D9FF" stroke="#0a0a0a" stroke-width="0.95"/>
<rect x="581.16" y="187.84" width="31.27" height="8.16" rx="5.5" ry="4.08" fill="#FFFFB2" stroke="#0a0a0a" stroke-width="0.95"/>
<rect x="612.73" y="187.84" width="31.27" height="8.16" rx="5.5" ry="4.08" fill="#FFFFB2" stroke="#0a0a0a" stroke-width="0.95"/>
<rect x="644.3" y="187.84" width="31.27" height="8.16" rx="5.5" ry="4.08" fill="#FFFFCC" stroke="#0a0a0a" stroke-width="0.95"/>
<rect x="486.45" y="196" width="31.27" height="8.16" rx="5.5" ry="4.08" fill="#D9D9FF" stroke="#0a0a0a" stroke-width="0.95"/>
<rect x="518.02" y="196" width="31.27" height="8.16" rx="5.5" ry="4.08" fill="#1919FF" stroke="#0a0a0a" stroke-width="0.95"/>
<rect x="549.59" y="196" width="31.27" height="8.16" rx="5.5" ry="4.08" fill="#FFFFBF" stroke="#0a0a0a" stroke-width="0.95"/>
<rect x="581.16" y="196" width="31.27" height="8.16" rx="5.5" ry="4.08" fill="#FFFF59" stroke="#0a0a0a" stroke-width="0.95"/>
<rect x="612.73" y="196" width="31.27" height="8.16" rx="5.5" ry="4.08" fill="#FFFF80" stroke="#0a0a0a" stroke-width="0.95"/>
<rect x="644.3" y="196" width="31.27" height="8.16" rx="5.5" ry="4.08" fill="#F2F2FF" stroke="#0a0a0a" stroke-width="0.95"/>
<rect x="486.45" y="204.16" width="31.27" height="8.16" rx="5.5" ry="4.08" fill="#F2F2FF" stroke="#0a0a0a" stroke-width="0.95"/>
<rect x="518.02" y="204.16" width="31.27" height="8.16" rx="5.5" ry="4.08" fill="#4040FF" stroke="#0a0a0a" stroke-width="0.95"/>
<rect x="549.59" y="204.16" width="31.27" height="8.16" rx="5.5" ry="4.08" fill="#FFFFF2" stroke="#0a0a0a" stroke-width="0.95"/>
<rect x="581.16" y="204.16" width="31.27" height="8.16" rx="5.5" ry="4.08" fill="#FFFF4D" stroke="#0a0a0a" stroke-width="0.95"/>
<rect x="612.73" y="204.16" width="31.27" height="8.16" rx="5.5" ry="4.08" fill="#FFFF66" stroke="#0a0a0a" stroke-width="0.95"/>
<rect x="644.3" y="204.16" width="31.27" height="8.16" rx="5.5" ry="4.08" fill="#A6A6FF" stroke="#0a0a0a" stroke-width="0.95"/>
<rect x="486.45" y="212.31" width="31.27" height="8.16" rx="5.5" ry="4.08" fill="#FFFFE6" stroke="#0a0a0a" stroke-width="0.95"/>
<rect x="518.02" y="212.31" width="31.27" height="8.16" rx="5.5" ry="4.08" fill="#5959FF" stroke="#0a0a0a" stroke-width="0.95"/>
<rect x="549.59" y="212.31" width="31.27" height="8.16" rx="5.5" ry="4.08" fill="#E6E6FF" stroke="#0a0a0a" stroke-width="0.95"/>
<rect x="581.16" y="212.31" width="31.27" height="8.16" rx="5.5" ry="4.08" fill="#FFFF0D" stroke="#0a0a0a" stroke-width="0.95"/>
<rect x="612.73" y="212.31" width="31.27" height="8.16" rx="5.5" ry="4.08" fill="#8C8CFF" stroke="#0a0a0a" stroke-width="0.95"/>
<rect x="644.3" y="212.31" width="31.27" height="8.16" rx="5.5" ry="4.08" fill="#FFFFFA" stroke="#0a0a0a" stroke-width="0.95"/>
<rect x="486.45" y="220.47" width="31.27" height="8.16" rx="5.5" ry="4.08" fill="#FFFFB2" stroke="#0a0a0a" stroke-width="0.95"/>
<rect x="518.02" y="220.47" width="31.27" height="8.16" rx="5.5" ry="4.08" fill="#4040FF" stroke="#0a0a0a" stroke-width="0.95"/>
<rect x="549.59" y="220.47" width="31.27" height="8.16" rx="5.5" ry="4.08" fill="#FFFFFF" stroke="#0a0a0a" stroke-width="0.95"/>
<rect x="581.16" y="220.47" width="31.27" height="8.16" rx="5.5" ry="4.08" fill="#FFFF40" stroke="#0a0a0a" stroke-width="0.95"/>
<rect x="612.73" y="220.47" width="31.27" height="8.16" rx="5.5" ry="4.08" fill="#A6A6FF" stroke="#0a0a0a" stroke-width="0.95"/>
<rect x="644.3" y="220.47" width="31.27" height="8.16" rx="5.5" ry="4.08" fill="#FFFFFF" stroke="#0a0a0a" stroke-width="0.95"/>
<rect x="486.45" y="228.63" width="31.27" height="8.16" rx="5.5" ry="4.08" fill="#FFFFB2" stroke="#0a0a0a" stroke-width="0.95"/>
<rect x="518.02" y="228.63" width="31.27" height="8.16" rx="5.5" ry="4.08" fill="#6666FF" stroke="#0a0a0a" stroke-width="0.95"/>
<rect x="549.59" y="228.63" width="31.27" height="8.16" rx="5.5" ry="4.08" fill="#D9D9FF" stroke="#0a0a0a" stroke-width="0.95"/>
<rect x="581.16" y="228.63" width="31.27" height="8.16" rx="5.5" ry="4.08" fill="#FFFF33" stroke="#0a0a0a" stroke-width="0.95"/>
<rect x="612.73" y="228.63" width="31.27" height="8.16" rx="5.5" ry="4.08" fill="#FFFFEB" stroke="#0a0a0a" stroke-width="0.95"/>
<rect x="644.3" y="228.63" width="31.27" height="8.16" rx="5.5" ry="4.08" fill="#8C8CFF" stroke="#0a0a0a" stroke-width="0.95"/>
<rect x="486.45" y="236.79" width="31.27" height="8.16" rx="5.5" ry="4.08" fill="#FFFFB2" stroke="#0a0a0a" stroke-width="0.95"/>
<rect x="518.02" y="236.79" width="31.27" height="8.16" rx="5.5" ry="4.08" fill="#4D4DFF" stroke="#0a0a0a" stroke-width="0.95"/>
<rect x="549.59" y="236.79" width="31.27" height="8.16" rx="5.5" ry="4.08" fill="#9999FF" stroke="#0a0a0a" stroke-width="0.95"/>
<rect x="581.16" y="236.79" width="31.27" height="8.16" rx="5.5" ry="4.08" fill="#FFFF40" stroke="#0a0a0a" stroke-width="0.95"/>
<rect x="612.73" y="236.79" width="31.27" height="8.16" rx="5.5" ry="4.08" fill="#FFFFF2" stroke="#0a0a0a" stroke-width="0.95"/>
<rect x="644.3" y="236.79" width="31.27" height="8.16" rx="5.5" ry="4.08" fill="#FFFFFF" stroke="#0a0a0a" stroke-width="0.95"/>
<rect x="486.45" y="244.94" width="31.27" height="8.16" rx="5.5" ry="4.08" fill="#FFFFB2" stroke="#0a0a0a" stroke-width="0.95"/>
<rect x="518.02" y="244.94" width="31.27" height="8.16" rx="5.5" ry="4.08" fill="#1919FF" stroke="#0a0a0a" stroke-width="0.95"/>
<rect x="549.59" y="244.94" width="31.27" height="8.16" rx="5.5" ry="4.08" fill="#E0E0FF" stroke="#0a0a0a" stroke-width="0.95"/>
<rect x="581.16" y="244.94" width="31.27" height="8.16" rx="5.5" ry="4.08" fill="#FFFF4D" stroke="#0a0a0a" stroke-width="0.95"/>
<rect x="612.73" y="244.94" width="31.27" height="8.16" rx="5.5" ry="4.08" fill="#FFFFFA" stroke="#0a0a0a" stroke-width="0.95"/>
<rect x="644.3" y="244.94" width="31.27" height="8.16" rx="5.5" ry="4.08" fill="#F2F2FF" stroke="#0a0a0a" stroke-width="0.95"/>
<rect x="486.45" y="253.1" width="31.27" height="8.16" rx="5.5" ry="4.08" fill="#FFFFB2" stroke="#0a0a0a" stroke-width="0.95"/>
<rect x="518.02" y="253.1" width="31.27" height="8.16" rx="5.5" ry="4.08" fill="#1919FF" stroke="#0a0a0a" stroke-width="0.95"/>
<rect x="549.59" y="253.1" width="31.27" height="8.16" rx="5.5" ry="4.08" fill="#EBEBFF" stroke="#0a0a0a" stroke-width="0.95"/>
<rect x="581.16" y="253.1" width="31.27" height="8.16" rx="5.5" ry="4.08" fill="#FFFF59" stroke="#0a0a0a" stroke-width="0.95"/>
<rect x="612.73" y="253.1" width="31.27" height="8.16" rx="5.5" ry="4.08" fill="#FFFFFF" stroke="#0a0a0a" stroke-width="0.95"/>
<rect x="644.3" y="253.1" width="31.27" height="8.16" rx="5.5" ry="4.08" fill="#F2F2FF" stroke="#0a0a0a" stroke-width="0.95"/>
<rect x="486.45" y="261.26" width="31.27" height="8.16" rx="5.5" ry="4.08" fill="#FFFFBF" stroke="#0a0a0a" stroke-width="0.95"/>
<rect x="518.02" y="261.26" width="31.27" height="8.16" rx="5.5" ry="4.08" fill="#0D0DFF" stroke="#0a0a0a" stroke-width="0.95"/>
<rect x="549.59" y="261.26" width="31.27" height="8.16" rx="5.5" ry="4.08" fill="#EBEBFF" stroke="#0a0a0a" stroke-width="0.95"/>
<rect x="581.16" y="261.26" width="31.27" height="8.16" rx="5.5" ry="4.08" fill="#FFFF66" stroke="#0a0a0a" stroke-width="0.95"/>
<rect x="612.73" y="261.26" width="31.27" height="8.16" rx="5.5" ry="4.08" fill="#FFFFEB" stroke="#0a0a0a" stroke-width="0.95"/>
<rect x="644.3" y="261.26" width="31.27" height="8.16" rx="5.5" ry="4.08" fill="#EBEBFF" stroke="#0a0a0a" stroke-width="0.95"/>
<rect x="486.45" y="269.41" width="31.27" height="8.16" rx="5.5" ry="4.08" fill="#FFFFBF" stroke="#0a0a0a" stroke-width="0.95"/>
<rect x="518.02" y="269.41" width="31.27" height="8.16" rx="5.5" ry="4.08" fill="#1919FF" stroke="#0a0a0a" stroke-width="0.95"/>
<rect x="549.59" y="269.41" width="31.27" height="8.16" rx="5.5" ry="4.08" fill="#F7F7FF" stroke="#0a0a0a" stroke-width="0.95"/>
<rect x="581.16" y="269.41" width="31.27" height="8.16" rx="5.5" ry="4.08" fill="#FFFF66" stroke="#0a0a0a" stroke-width="0.95"/>
<rect x="612.73" y="269.41" width="31.27" height="8.16" rx="5.5" ry="4.08" fill="#FFFFE6" stroke="#0a0a0a" stroke-width="0.95"/>
<rect x="644.3" y="269.41" width="31.27" height="8.16" rx="5.5" ry="4.08" fill="#E0E0FF" stroke="#0a0a0a" stroke-width="0.95"/>
<rect x="486.45" y="277.57" width="31.27" height="8.16" rx="5.5" ry="4.08" fill="#FFFFA6" stroke="#0a0a0a" stroke-width="0.95"/>
<rect x="518.02" y="277.57" width="31.27" height="8.16" rx="5.5" ry="4.08" fill="#1919FF" stroke="#0a0a0a" stroke-width="0.95"/>
<rect x="549.59" y="277.57" width="31.27" height="8.16" rx="5.5" ry="4.08" fill="#CCCCFF" stroke="#0a0a0a" stroke-width="0.95"/>
<rect x="581.16" y="277.57" width="31.27" height="8.16" rx="5.5" ry="4.08" fill="#FFFF66" stroke="#0a0a0a" stroke-width="0.95"/>
<rect x="612.73" y="277.57" width="31.27" height="8.16" rx="5.5" ry="4.08" fill="#FFFFE6" stroke="#0a0a0a" stroke-width="0.95"/>
<rect x="644.3" y="277.57" width="31.27" height="8.16" rx="5.5" ry="4.08" fill="#FFFFFF" stroke="#0a0a0a" stroke-width="0.95"/>
<rect x="486.45" y="285.73" width="31.27" height="8.16" rx="5.5" ry="4.08" fill="#FFFFB2" stroke="#0a0a0a" stroke-width="0.95"/>
<rect x="518.02" y="285.73" width="31.27" height="8.16" rx="5.5" ry="4.08" fill="#1919FF" stroke="#0a0a0a" stroke-width="0.95"/>
<rect x="549.59" y="285.73" width="31.27" height="8.16" rx="5.5" ry="4.08" fill="#C7C7FF" stroke="#0a0a0a" stroke-width="0.95"/>
<rect x="581.16" y="285.73" width="31.27" height="8.16" rx="5.5" ry="4.08" fill="#FFFF66" stroke="#0a0a0a" stroke-width="0.95"/>
<rect x="612.73" y="285.73" width="31.27" height="8.16" rx="5.5" ry="4.08" fill="#FFFFD9" stroke="#0a0a0a" stroke-width="0.95"/>
<rect x="644.3" y="285.73" width="31.27" height="8.16" rx="5.5" ry="4.08" fill="#FFFFF2" stroke="#0a0a0a" stroke-width="0.95"/>
<rect x="486.45" y="293.89" width="31.27" height="8.16" rx="5.5" ry="4.08" fill="#FFFFEB" stroke="#0a0a0a" stroke-width="0.95"/>
<rect x="518.02" y="293.89" width="31.27" height="8.16" rx="5.5" ry="4.08" fill="#FFFFBF" stroke="#0a0a0a" stroke-width="0.95"/>
<rect x="549.59" y="293.89" width="31.27" height="8.16" rx="5.5" ry="4.08" fill="#4040FF" stroke="#0a0a0a" stroke-width="0.95"/>
<rect x="581.16" y="293.89" width="31.27" height="8.16" rx="5.5" ry="4.08" fill="#FFFFCC" stroke="#0a0a0a" stroke-width="0.95"/>
<rect x="612.73" y="293.89" width="31.27" height="8.16" rx="5.5" ry="4.08" fill="#8C8CFF" stroke="#0a0a0a" stroke-width="0.95"/>
<rect x="644.3" y="293.89" width="31.27" height="8.16" rx="5.5" ry="4.08" fill="#FFFF40" stroke="#0a0a0a" stroke-width="0.95"/>
<rect x="486.45" y="302.04" width="31.27" height="8.16" rx="5.5" ry="4.08" fill="#FFFFA6" stroke="#0a0a0a" stroke-width="0.95"/>
<rect x="518.02" y="302.04" width="31.27" height="8.16" rx="5.5" ry="4.08" fill="#8C8CFF" stroke="#0a0a0a" stroke-width="0.95"/>
<rect x="549.59" y="302.04" width="31.27" height="8.16" rx="5.5" ry="4.08" fill="#FFFFBF" stroke="#0a0a0a" stroke-width="0.95"/>
<rect x="581.16" y="302.04" width="31.27" height="8.16" rx="5.5" ry="4.08" fill="#A6A6FF" stroke="#0a0a0a" stroke-width="0.95"/>
<rect x="612.73" y="302.04" width="31.27" height="8.16" rx="5.5" ry="4.08" fill="#6666FF" stroke="#0a0a0a" stroke-width="0.95"/>
<rect x="644.3" y="302.04" width="31.27" height="8.16" rx="5.5" ry="4.08" fill="#FFFF40" stroke="#0a0a0a" stroke-width="0.95"/>
<rect x="486.45" y="310.2" width="31.27" height="8.16" rx="5.5" ry="4.08" fill="#FFFFF2" stroke="#0a0a0a" stroke-width="0.95"/>
<rect x="518.02" y="310.2" width="31.27" height="8.16" rx="5.5" ry="4.08" fill="#4D4DFF" stroke="#0a0a0a" stroke-width="0.95"/>
<rect x="549.59" y="310.2" width="31.27" height="8.16" rx="5.5" ry="4.08" fill="#FFFFF2" stroke="#0a0a0a" stroke-width="0.95"/>
<rect x="581.16" y="310.2" width="31.27" height="8.16" rx="5.5" ry="4.08" fill="#A6A6FF" stroke="#0a0a0a" stroke-width="0.95"/>
<rect x="612.73" y="310.2" width="31.27" height="8.16" rx="5.5" ry="4.08" fill="#FFFFD9" stroke="#0a0a0a" stroke-width="0.95"/>
<rect x="644.3" y="310.2" width="31.27" height="8.16" rx="5.5" ry="4.08" fill="#FFFF33" stroke="#0a0a0a" stroke-width="0.95"/>
<rect x="486.45" y="318.36" width="31.27" height="8.16" rx="5.5" ry="4.08" fill="#B2B2FF" stroke="#0a0a0a" stroke-width="0.95"/>
<rect x="518.02" y="318.36" width="31.27" height="8.16" rx="5.5" ry="4.08" fill="#B2B2FF" stroke="#0a0a0a" stroke-width="0.95"/>
<rect x="549.59" y="318.36" width="31.27" height="8.16" rx="5.5" ry="4.08" fill="#B2B2FF" stroke="#0a0a0a" stroke-width="0.95"/>
<rect x="581.16" y="318.36" width="31.27" height="8.16" rx="5.5" ry="4.08" fill="#B2B2FF" stroke="#0a0a0a" stroke-width="0.95"/>
<rect x="612.73" y="318.36" width="31.27" height="8.16" rx="5.5" ry="4.08" fill="#B2B2FF" stroke="#0a0a0a" stroke-width="0.95"/>
<rect x="644.3" y="318.36" width="31.27" height="8.16" rx="5.5" ry="4.08" fill="#FFFF0D" stroke="#0a0a0a" stroke-width="0.95"/>
<rect x="486.45" y="326.51" width="31.27" height="8.16" rx="5.5" ry="4.08" fill="#A6A6FF" stroke="#0a0a0a" stroke-width="0.95"/>
<rect x="518.02" y="326.51" width="31.27" height="8.16" rx="5.5" ry="4.08" fill="#E6E6FF" stroke="#0a0a0a" stroke-width="0.95"/>
<rect x="549.59" y="326.51" width="31.27" height="8.16" rx="5.5" ry="4.08" fill="#FFFF0D" stroke="#0a0a0a" stroke-width="0.95"/>
<rect x="581.16" y="326.51" width="31.27" height="8.16" rx="5.5" ry="4.08" fill="#A6A6FF" stroke="#0a0a0a" stroke-width="0.95"/>
<rect x="612.73" y="326.51" width="31.27" height="8.16" rx="5.5" ry="4.08" fill="#FFFFFF" stroke="#0a0a0a" stroke-width="0.95"/>
<rect x="644.3" y="326.51" width="31.27" height="8.16" rx="5.5" ry="4.08" fill="#A6A6FF" stroke="#0a0a0a" stroke-width="0.95"/>
<rect x="486.45" y="334.67" width="31.27" height="8.16" rx="5.5" ry="4.08" fill="#FFFFD9" stroke="#0a0a0a" stroke-width="0.95"/>
<rect x="518.02" y="334.67" width="31.27" height="8.16" rx="5.5" ry="4.08" fill="#7373FF" stroke="#0a0a0a" stroke-width="0.95"/>
<rect x="549.59" y="334.67" width="31.27" height="8.16" rx="5.5" ry="4.08" fill="#FFFF73" stroke="#0a0a0a" stroke-width="0.95"/>
<rect x="581.16" y="334.67" width="31.27" height="8.16" rx="5.5" ry="4.08" fill="#4040FF" stroke="#0a0a0a" stroke-width="0.95"/>
<rect x="612.73" y="334.67" width="31.27" height="8.16" rx="5.5" ry="4.08" fill="#FFFF80" stroke="#0a0a0a" stroke-width="0.95"/>
<rect x="644.3" y="334.67" width="31.27" height="8.16" rx="5.5" ry="4.08" fill="#FFFFA6" stroke="#0a0a0a" stroke-width="0.95"/>
<rect x="486.45" y="342.83" width="31.27" height="8.16" rx="5.5" ry="4.08" fill="#FFFF4D" stroke="#0a0a0a" stroke-width="0.95"/>
<rect x="518.02" y="342.83" width="31.27" height="8.16" rx="5.5" ry="4.08" fill="#8C8CFF" stroke="#0a0a0a" stroke-width="0.95"/>
<rect x="549.59" y="342.83" width="31.27" height="8.16" rx="5.5" ry="4.08" fill="#8C8CFF" stroke="#0a0a0a" stroke-width="0.95"/>
<rect x="581.16" y="342.83" width="31.27" height="8.16" rx="5.5" ry="4.08" fill="#8C8CFF" stroke="#0a0a0a" stroke-width="0.95"/>
<rect x="612.73" y="342.83" width="31.27" height="8.16" rx="5.5" ry="4.08" fill="#D9D9FF" stroke="#0a0a0a" stroke-width="0.95"/>
<rect x="644.3" y="342.83" width="31.27" height="8.16" rx="5.5" ry="4.08" fill="#FFFF66" stroke="#0a0a0a" stroke-width="0.95"/>
<rect x="486.45" y="350.99" width="31.27" height="8.16" rx="5.5" ry="4.08" fill="#FFFF59" stroke="#0a0a0a" stroke-width="0.95"/>
<rect x="518.02" y="350.99" width="31.27" height="8.16" rx="5.5" ry="4.08" fill="#8080FF" stroke="#0a0a0a" stroke-width="0.95"/>
<rect x="549.59" y="350.99" width="31.27" height="8.16" rx="5.5" ry="4.08" fill="#FFFFFF" stroke="#0a0a0a" stroke-width="0.95"/>
<rect x="581.16" y="350.99" width="31.27" height="8.16" rx="5.5" ry="4.08" fill="#4040FF" stroke="#0a0a0a" stroke-width="0.95"/>
<rect x="612.73" y="350.99" width="31.27" height="8.16" rx="5.5" ry="4.08" fill="#FFFFBF" stroke="#0a0a0a" stroke-width="0.95"/>
<rect x="644.3" y="350.99" width="31.27" height="8.16" rx="5.5" ry="4.08" fill="#FFFF80" stroke="#0a0a0a" stroke-width="0.95"/>
<rect x="486.45" y="359.14" width="31.27" height="8.16" rx="5.5" ry="4.08" fill="#FFFF26" stroke="#0a0a0a" stroke-width="0.95"/>
<rect x="518.02" y="359.14" width="31.27" height="8.16" rx="5.5" ry="4.08" fill="#5959FF" stroke="#0a0a0a" stroke-width="0.95"/>
<rect x="549.59" y="359.14" width="31.27" height="8.16" rx="5.5" ry="4.08" fill="#E6E6FF" stroke="#0a0a0a" stroke-width="0.95"/>
<rect x="581.16" y="359.14" width="31.27" height="8.16" rx="5.5" ry="4.08" fill="#8C8CFF" stroke="#0a0a0a" stroke-width="0.95"/>
<rect x="612.73" y="359.14" width="31.27" height="8.16" rx="5.5" ry="4.08" fill="#F2F2FF" stroke="#0a0a0a" stroke-width="0.95"/>
<rect x="644.3" y="359.14" width="31.27" height="8.16" rx="5.5" ry="4.08" fill="#FFFFA6" stroke="#0a0a0a" stroke-width="0.95"/>
<rect x="486.45" y="367.3" width="31.27" height="8.16" rx="5.5" ry="4.08" fill="#FFFF0D" stroke="#0a0a0a" stroke-width="0.95"/>
<rect x="518.02" y="367.3" width="31.27" height="8.16" rx="5.5" ry="4.08" fill="#B2B2FF" stroke="#0a0a0a" stroke-width="0.95"/>
<rect x="549.59" y="367.3" width="31.27" height="8.16" rx="5.5" ry="4.08" fill="#B2B2FF" stroke="#0a0a0a" stroke-width="0.95"/>
<rect x="581.16" y="367.3" width="31.27" height="8.16" rx="5.5" ry="4.08" fill="#A6A6FF" stroke="#0a0a0a" stroke-width="0.95"/>
<rect x="612.73" y="367.3" width="31.27" height="8.16" rx="5.5" ry="4.08" fill="#B2B2FF" stroke="#0a0a0a" stroke-width="0.95"/>
<rect x="644.3" y="367.3" width="31.27" height="8.16" rx="5.5" ry="4.08" fill="#B2B2FF" stroke="#0a0a0a" stroke-width="0.95"/>
<rect x="486.45" y="375.46" width="31.27" height="8.16" rx="5.5" ry="4.08" fill="#FFFF0D" stroke="#0a0a0a" stroke-width="0.95"/>
<rect x="518.02" y="375.46" width="31.27" height="8.16" rx="5.5" ry="4.08" fill="#B2B2FF" stroke="#0a0a0a" stroke-width="0.95"/>
<rect x="549.59" y="375.46" width="31.27" height="8.16" rx="5.5" ry="4.08" fill="#CCCCFF" stroke="#0a0a0a" stroke-width="0.95"/>
<rect x="581.16" y="375.46" width="31.27" height="8.16" rx="5.5" ry="4.08" fill="#9999FF" stroke="#0a0a0a" stroke-width="0.95"/>
<rect x="612.73" y="375.46" width="31.27" height="8.16" rx="5.5" ry="4.08" fill="#B2B2FF" stroke="#0a0a0a" stroke-width="0.95"/>
<rect x="644.3" y="375.46" width="31.27" height="8.16" rx="5.5" ry="4.08" fill="#D9D9FF" stroke="#0a0a0a" stroke-width="0.95"/>
<rect x="486.45" y="383.61" width="31.27" height="8.16" rx="5.5" ry="4.08" fill="#FFFF0D" stroke="#0a0a0a" stroke-width="0.95"/>
<rect x="518.02" y="383.61" width="31.27" height="8.16" rx="5.5" ry="4.08" fill="#FFFFFF" stroke="#0a0a0a" stroke-width="0.95"/>
<rect x="549.59" y="383.61" width="31.27" height="8.16" rx="5.5" ry="4.08" fill="#A6A6FF" stroke="#0a0a0a" stroke-width="0.95"/>
<rect x="581.16" y="383.61" width="31.27" height="8.16" rx="5.5" ry="4.08" fill="#A6A6FF" stroke="#0a0a0a" stroke-width="0.95"/>
<rect x="612.73" y="383.61" width="31.27" height="8.16" rx="5.5" ry="4.08" fill="#A6A6FF" stroke="#0a0a0a" stroke-width="0.95"/>
<rect x="644.3" y="383.61" width="31.27" height="8.16" rx="5.5" ry="4.08" fill="#A6A6FF" stroke="#0a0a0a" stroke-width="0.95"/>
<rect x="486.45" y="391.77" width="31.27" height="8.16" rx="5.5" ry="4.08" fill="#FFFF0D" stroke="#0a0a0a" stroke-width="0.95"/>
<rect x="518.02" y="391.77" width="31.27" height="8.16" rx="5.5" ry="4.08" fill="#E0E0FF" stroke="#0a0a0a" stroke-width="0.95"/>
<rect x="549.59" y="391.77" width="31.27" height="8.16" rx="5.5" ry="4.08" fill="#FFFFFF" stroke="#0a0a0a" stroke-width="0.95"/>
<rect x="581.16" y="391.77" width="31.27" height="8.16" rx="5.5" ry="4.08" fill="#9999FF" stroke="#0a0a0a" stroke-width="0.95"/>
<rect x="612.73" y="391.77" width="31.27" height="8.16" rx="5.5" ry="4.08" fill="#A6A6FF" stroke="#0a0a0a" stroke-width="0.95"/>
<rect x="644.3" y="391.77" width="31.27" height="8.16" rx="5.5" ry="4.08" fill="#A6A6FF" stroke="#0a0a0a" stroke-width="0.95"/>
<rect x="486.45" y="399.93" width="31.27" height="8.16" rx="5.5" ry="4.08" fill="#FFFF0D" stroke="#0a0a0a" stroke-width="0.95"/>
<rect x="518.02" y="399.93" width="31.27" height="8.16" rx="5.5" ry="4.08" fill="#B2B2FF" stroke="#0a0a0a" stroke-width="0.95"/>
<rect x="549.59" y="399.93" width="31.27" height="8.16" rx="5.5" ry="4.08" fill="#FFFFB2" stroke="#0a0a0a" stroke-width="0.95"/>
<rect x="581.16" y="399.93" width="31.27" height="8.16" rx="5.5" ry="4.08" fill="#8C8CFF" stroke="#0a0a0a" stroke-width="0.95"/>
<rect x="612.73" y="399.93" width="31.27" height="8.16" rx="5.5" ry="4.08" fill="#7373FF" stroke="#0a0a0a" stroke-width="0.95"/>
<rect x="644.3" y="399.93" width="31.27" height="8.16" rx="5.5" ry="4.08" fill="#FFFFD9" stroke="#0a0a0a" stroke-width="0.95"/>
<rect x="486.45" y="408.09" width="31.27" height="8.16" rx="5.5" ry="4.08" fill="#FFFF19" stroke="#0a0a0a" stroke-width="0.95"/>
<rect x="518.02" y="408.09" width="31.27" height="8.16" rx="5.5" ry="4.08" fill="#8C8CFF" stroke="#0a0a0a" stroke-width="0.95"/>
<rect x="549.59" y="408.09" width="31.27" height="8.16" rx="5.5" ry="4.08" fill="#FFFFBF" stroke="#0a0a0a" stroke-width="0.95"/>
<rect x="581.16" y="408.09" width="31.27" height="8.16" rx="5.5" ry="4.08" fill="#8C8CFF" stroke="#0a0a0a" stroke-width="0.95"/>
<rect x="612.73" y="408.09" width="31.27" height="8.16" rx="5.5" ry="4.08" fill="#CCCCFF" stroke="#0a0a0a" stroke-width="0.95"/>
<rect x="644.3" y="408.09" width="31.27" height="8.16" rx="5.5" ry="4.08" fill="#CCCCFF" stroke="#0a0a0a" stroke-width="0.95"/>
<rect x="486.45" y="416.24" width="31.27" height="8.16" rx="5.5" ry="4.08" fill="#FFFF66" stroke="#0a0a0a" stroke-width="0.95"/>
<rect x="518.02" y="416.24" width="31.27" height="8.16" rx="5.5" ry="4.08" fill="#6666FF" stroke="#0a0a0a" stroke-width="0.95"/>
<rect x="549.59" y="416.24" width="31.27" height="8.16" rx="5.5" ry="4.08" fill="#FFFF33" stroke="#0a0a0a" stroke-width="0.95"/>
<rect x="581.16" y="416.24" width="31.27" height="8.16" rx="5.5" ry="4.08" fill="#B2B2FF" stroke="#0a0a0a" stroke-width="0.95"/>
<rect x="612.73" y="416.24" width="31.27" height="8.16" rx="5.5" ry="4.08" fill="#F2F2FF" stroke="#0a0a0a" stroke-width="0.95"/>
<rect x="644.3" y="416.24" width="31.27" height="8.16" rx="5.5" ry="4.08" fill="#9999FF" stroke="#0a0a0a" stroke-width="0.95"/>
<rect x="486.45" y="424.4" width="31.27" height="8.16" rx="5.5" ry="4.08" fill="#FFFF73" stroke="#0a0a0a" stroke-width="0.95"/>
<rect x="518.02" y="424.4" width="31.27" height="8.16" rx="5.5" ry="4.08" fill="#7373FF" stroke="#0a0a0a" stroke-width="0.95"/>
<rect x="549.59" y="424.4" width="31.27" height="8.16" rx="5.5" ry="4.08" fill="#FFFF4D" stroke="#0a0a0a" stroke-width="0.95"/>
<rect x="581.16" y="424.4" width="31.27" height="8.16" rx="5.5" ry="4.08" fill="#FFFFBF" stroke="#0a0a0a" stroke-width="0.95"/>
<rect x="612.73" y="424.4" width="31.27" height="8.16" rx="5.5" ry="4.08" fill="#9999FF" stroke="#0a0a0a" stroke-width="0.95"/>
<rect x="644.3" y="424.4" width="31.27" height="8.16" rx="5.5" ry="4.08" fill="#9999FF" stroke="#0a0a0a" stroke-width="0.95"/>
<rect x="486.45" y="432.56" width="31.27" height="8.16" rx="5.5" ry="4.08" fill="#FFFFA6" stroke="#0a0a0a" stroke-width="0.95"/>
<rect x="518.02" y="432.56" width="31.27" height="8.16" rx="5.5" ry="4.08" fill="#4D4DFF" stroke="#0a0a0a" stroke-width="0.95"/>
<rect x="549.59" y="432.56" width="31.27" height="8.16" rx="5.5" ry="4.08" fill="#FFFF26" stroke="#0a0a0a" stroke-width="0.95"/>
<rect x="581.16" y="432.56" width="31.27" height="8.16" rx="5.5" ry="4.08" fill="#FFFFF2" stroke="#0a0a0a" stroke-width="0.95"/>
<rect x="612.73" y="432.56" width="31.27" height="8.16" rx="5.5" ry="4.08" fill="#9999FF" stroke="#0a0a0a" stroke-width="0.95"/>
<rect x="644.3" y="432.56" width="31.27" height="8.16" rx="5.5" ry="4.08" fill="#E6E6FF" stroke="#0a0a0a" stroke-width="0.95"/>
<rect x="486.45" y="440.71" width="31.27" height="8.16" rx="5.5" ry="4.08" fill="#FFFFA6" stroke="#0a0a0a" stroke-width="0.95"/>
<rect x="518.02" y="440.71" width="31.27" height="8.16" rx="5.5" ry="4.08" fill="#4D4DFF" stroke="#0a0a0a" stroke-width="0.95"/>
<rect x="549.59" y="440.71" width="31.27" height="8.16" rx="5.5" ry="4.08" fill="#FFFF19" stroke="#0a0a0a" stroke-width="0.95"/>
<rect x="581.16" y="440.71" width="31.27" height="8.16" rx="5.5" ry="4.08" fill="#FFFFF2" stroke="#0a0a0a" stroke-width="0.95"/>
<rect x="612.73" y="440.71" width="31.27" height="8.16" rx="5.5" ry="4.08" fill="#9999FF" stroke="#0a0a0a" stroke-width="0.95"/>
<rect x="644.3" y="440.71" width="31.27" height="8.16" rx="5.5" ry="4.08" fill="#D9D9FF" stroke="#0a0a0a" stroke-width="0.95"/>
<rect x="486.45" y="448.87" width="31.27" height="8.16" rx="5.5" ry="4.08" fill="#FFFF66" stroke="#0a0a0a" stroke-width="0.95"/>
<rect x="518.02" y="448.87" width="31.27" height="8.16" rx="5.5" ry="4.08" fill="#B2B2FF" stroke="#0a0a0a" stroke-width="0.95"/>
<rect x="549.59" y="448.87" width="31.27" height="8.16" rx="5.5" ry="4.08" fill="#FFFF73" stroke="#0a0a0a" stroke-width="0.95"/>
<rect x="581.16" y="448.87" width="31.27" height="8.16" rx="5.5" ry="4.08" fill="#FFFFBF" stroke="#0a0a0a" stroke-width="0.95"/>
<rect x="612.73" y="448.87" width="31.27" height="8.16" rx="5.5" ry="4.08" fill="#4040FF" stroke="#0a0a0a" stroke-width="0.95"/>
<rect x="644.3" y="448.87" width="31.27" height="8.16" rx="5.5" ry="4.08" fill="#B2B2FF" stroke="#0a0a0a" stroke-width="0.95"/>
<rect x="486.45" y="457.03" width="31.27" height="8.16" rx="5.5" ry="4.08" fill="#FFFF59" stroke="#0a0a0a" stroke-width="0.95"/>
<rect x="518.02" y="457.03" width="31.27" height="8.16" rx="5.5" ry="4.08" fill="#9999FF" stroke="#0a0a0a" stroke-width="0.95"/>
<rect x="549.59" y="457.03" width="31.27" height="8.16" rx="5.5" ry="4.08" fill="#FFFF66" stroke="#0a0a0a" stroke-width="0.95"/>
<rect x="581.16" y="457.03" width="31.27" height="8.16" rx="5.5" ry="4.08" fill="#FFFFF2" stroke="#0a0a0a" stroke-width="0.95"/>
<rect x="612.73" y="457.03" width="31.27" height="8.16" rx="5.5" ry="4.08" fill="#6666FF" stroke="#0a0a0a" stroke-width="0.95"/>
<rect x="644.3" y="457.03" width="31.27" height="8.16" rx="5.5" ry="4.08" fill="#B2B2FF" stroke="#0a0a0a" stroke-width="0.95"/>
<rect x="486.45" y="465.19" width="31.27" height="8.16" rx="5.5" ry="4.08" fill="#FFFF66" stroke="#0a0a0a" stroke-width="0.95"/>
<rect x="518.02" y="465.19" width="31.27" height="8.16" rx="5.5" ry="4.08" fill="#B2B2FF" stroke="#0a0a0a" stroke-width="0.95"/>
<rect x="549.59" y="465.19" width="31.27" height="8.16" rx="5.5" ry="4.08" fill="#FFFF40" stroke="#0a0a0a" stroke-width="0.95"/>
<rect x="581.16" y="465.19" width="31.27" height="8.16" rx="5.5" ry="4.08" fill="#B2B2FF" stroke="#0a0a0a" stroke-width="0.95"/>
<rect x="612.73" y="465.19" width="31.27" height="8.16" rx="5.5" ry="4.08" fill="#A6A6FF" stroke="#0a0a0a" stroke-width="0.95"/>
<rect x="644.3" y="465.19" width="31.27" height="8.16" rx="5.5" ry="4.08" fill="#9999FF" stroke="#0a0a0a" stroke-width="0.95"/>
<rect x="486.45" y="473.34" width="31.27" height="8.16" rx="5.5" ry="4.08" fill="#FFFF59" stroke="#0a0a0a" stroke-width="0.95"/>
<rect x="518.02" y="473.34" width="31.27" height="8.16" rx="5.5" ry="4.08" fill="#D9D9FF" stroke="#0a0a0a" stroke-width="0.95"/>
<rect x="549.59" y="473.34" width="31.27" height="8.16" rx="5.5" ry="4.08" fill="#FFFF40" stroke="#0a0a0a" stroke-width="0.95"/>
<rect x="581.16" y="473.34" width="31.27" height="8.16" rx="5.5" ry="4.08" fill="#A6A6FF" stroke="#0a0a0a" stroke-width="0.95"/>
<rect x="612.73" y="473.34" width="31.27" height="8.16" rx="5.5" ry="4.08" fill="#8080FF" stroke="#0a0a0a" stroke-width="0.95"/>
<rect x="644.3" y="473.34" width="31.27" height="8.16" rx="5.5" ry="4.08" fill="#8080FF" stroke="#0a0a0a" stroke-width="0.95"/>
<rect x="486.45" y="481.5" width="31.27" height="8.16" rx="5.5" ry="4.08" fill="#FFFFB2" stroke="#0a0a0a" stroke-width="0.95"/>
<rect x="518.02" y="481.5" width="31.27" height="8.16" rx="5.5" ry="4.08" fill="#1919FF" stroke="#0a0a0a" stroke-width="0.95"/>
<rect x="549.59" y="481.5" width="31.27" height="8.16" rx="5.5" ry="4.08" fill="#FFFF8C" stroke="#0a0a0a" stroke-width="0.95"/>
<rect x="581.16" y="481.5" width="31.27" height="8.16" rx="5.5" ry="4.08" fill="#FFFF66" stroke="#0a0a0a" stroke-width="0.95"/>
<rect x="612.73" y="481.5" width="31.27" height="8.16" rx="5.5" ry="4.08" fill="#CCCCFF" stroke="#0a0a0a" stroke-width="0.95"/>
<rect x="644.3" y="481.5" width="31.27" height="8.16" rx="5.5" ry="4.08" fill="#E6E6FF" stroke="#0a0a0a" stroke-width="0.95"/>
<rect x="486.45" y="489.66" width="31.27" height="8.16" rx="5.5" ry="4.08" fill="#FFFF80" stroke="#0a0a0a" stroke-width="0.95"/>
<rect x="518.02" y="489.66" width="31.27" height="8.16" rx="5.5" ry="4.08" fill="#4040FF" stroke="#0a0a0a" stroke-width="0.95"/>
<rect x="549.59" y="489.66" width="31.27" height="8.16" rx="5.5" ry="4.08" fill="#FFFFCC" stroke="#0a0a0a" stroke-width="0.95"/>
<rect x="581.16" y="489.66" width="31.27" height="8.16" rx="5.5" ry="4.08" fill="#FFFF66" stroke="#0a0a0a" stroke-width="0.95"/>
<rect x="612.73" y="489.66" width="31.27" height="8.16" rx="5.5" ry="4.08" fill="#6666FF" stroke="#0a0a0a" stroke-width="0.95"/>
<rect x="644.3" y="489.66" width="31.27" height="8.16" rx="5.5" ry="4.08" fill="#FFFFB2" stroke="#0a0a0a" stroke-width="0.95"/>
<rect x="486.45" y="497.81" width="31.27" height="8.16" rx="5.5" ry="4.08" fill="#FFFF80" stroke="#0a0a0a" stroke-width="0.95"/>
<rect x="518.02" y="497.81" width="31.27" height="8.16" rx="5.5" ry="4.08" fill="#3333FF" stroke="#0a0a0a" stroke-width="0.95"/>
<rect x="549.59" y="497.81" width="31.27" height="8.16" rx="5.5" ry="4.08" fill="#FFFF99" stroke="#0a0a0a" stroke-width="0.95"/>
<rect x="581.16" y="497.81" width="31.27" height="8.16" rx="5.5" ry="4.08" fill="#FFFFA6" stroke="#0a0a0a" stroke-width="0.95"/>
<rect x="612.73" y="497.81" width="31.27" height="8.16" rx="5.5" ry="4.08" fill="#8C8CFF" stroke="#0a0a0a" stroke-width="0.95"/>
<rect x="644.3" y="497.81" width="31.27" height="8.16" rx="5.5" ry="4.08" fill="#FFFFB2" stroke="#0a0a0a" stroke-width="0.95"/>
<rect x="486.45" y="505.97" width="31.27" height="8.16" rx="5.5" ry="4.08" fill="#FFFF73" stroke="#0a0a0a" stroke-width="0.95"/>
<rect x="518.02" y="505.97" width="31.27" height="8.16" rx="5.5" ry="4.08" fill="#4040FF" stroke="#0a0a0a" stroke-width="0.95"/>
<rect x="549.59" y="505.97" width="31.27" height="8.16" rx="5.5" ry="4.08" fill="#FFFF99" stroke="#0a0a0a" stroke-width="0.95"/>
<rect x="581.16" y="505.97" width="31.27" height="8.16" rx="5.5" ry="4.08" fill="#FFFF80" stroke="#0a0a0a" stroke-width="0.95"/>
<rect x="612.73" y="505.97" width="31.27" height="8.16" rx="5.5" ry="4.08" fill="#7373FF" stroke="#0a0a0a" stroke-width="0.95"/>
<rect x="644.3" y="505.97" width="31.27" height="8.16" rx="5.5" ry="4.08" fill="#FFFFFA" stroke="#0a0a0a" stroke-width="0.95"/>
<rect x="486.45" y="514.13" width="31.27" height="8.16" rx="5.5" ry="4.08" fill="#FFFF66" stroke="#0a0a0a" stroke-width="0.95"/>
<rect x="518.02" y="514.13" width="31.27" height="8.16" rx="5.5" ry="4.08" fill="#4D4DFF" stroke="#0a0a0a" stroke-width="0.95"/>
<rect x="549.59" y="514.13" width="31.27" height="8.16" rx="5.5" ry="4.08" fill="#FFFFB2" stroke="#0a0a0a" stroke-width="0.95"/>
<rect x="581.16" y="514.13" width="31.27" height="8.16" rx="5.5" ry="4.08" fill="#FFFFF2" stroke="#0a0a0a" stroke-width="0.95"/>
<rect x="612.73" y="514.13" width="31.27" height="8.16" rx="5.5" ry="4.08" fill="#F2F2FF" stroke="#0a0a0a" stroke-width="0.95"/>
<rect x="644.3" y="514.13" width="31.27" height="8.16" rx="5.5" ry="4.08" fill="#8C8CFF" stroke="#0a0a0a" stroke-width="0.95"/>
<rect x="486.45" y="522.29" width="31.27" height="8.16" rx="5.5" ry="4.08" fill="#FFFF4D" stroke="#0a0a0a" stroke-width="0.95"/>
<rect x="518.02" y="522.29" width="31.27" height="8.16" rx="5.5" ry="4.08" fill="#8C8CFF" stroke="#0a0a0a" stroke-width="0.95"/>
<rect x="549.59" y="522.29" width="31.27" height="8.16" rx="5.5" ry="4.08" fill="#E6E6FF" stroke="#0a0a0a" stroke-width="0.95"/>
<rect x="581.16" y="522.29" width="31.27" height="8.16" rx="5.5" ry="4.08" fill="#FFFF80" stroke="#0a0a0a" stroke-width="0.95"/>
<rect x="612.73" y="522.29" width="31.27" height="8.16" rx="5.5" ry="4.08" fill="#8C8CFF" stroke="#0a0a0a" stroke-width="0.95"/>
<rect x="644.3" y="522.29" width="31.27" height="8.16" rx="5.5" ry="4.08" fill="#8C8CFF" stroke="#0a0a0a" stroke-width="0.95"/>
<rect x="486.45" y="530.44" width="31.27" height="8.16" rx="5.5" ry="4.08" fill="#B2B2FF" stroke="#0a0a0a" stroke-width="0.95"/>
<rect x="518.02" y="530.44" width="31.27" height="8.16" rx="5.5" ry="4.08" fill="#FFFF0D" stroke="#0a0a0a" stroke-width="0.95"/>
<rect x="549.59" y="530.44" width="31.27" height="8.16" rx="5.5" ry="4.08" fill="#B2B2FF" stroke="#0a0a0a" stroke-width="0.95"/>
<rect x="581.16" y="530.44" width="31.27" height="8.16" rx="5.5" ry="4.08" fill="#B2B2FF" stroke="#0a0a0a" stroke-width="0.95"/>
<rect x="612.73" y="530.44" width="31.27" height="8.16" rx="5.5" ry="4.08" fill="#BFBFFF" stroke="#0a0a0a" stroke-width="0.95"/>
<rect x="644.3" y="530.44" width="31.27" height="8.16" rx="5.5" ry="4.08" fill="#BFBFFF" stroke="#0a0a0a" stroke-width="0.95"/>
<rect x="486.45" y="538.6" width="31.27" height="8.16" rx="5.5" ry="4.08" fill="#CCCCFF" stroke="#0a0a0a" stroke-width="0.95"/>
<rect x="518.02" y="538.6" width="31.27" height="8.16" rx="5.5" ry="4.08" fill="#FFFF4D" stroke="#0a0a0a" stroke-width="0.95"/>
<rect x="549.59" y="538.6" width="31.27" height="8.16" rx="5.5" ry="4.08" fill="#FFFFFA" stroke="#0a0a0a" stroke-width="0.95"/>
<rect x="581.16" y="538.6" width="31.27" height="8.16" rx="5.5" ry="4.08" fill="#FFFFD9" stroke="#0a0a0a" stroke-width="0.95"/>
<rect x="612.73" y="538.6" width="31.27" height="8.16" rx="5.5" ry="4.08" fill="#2626FF" stroke="#0a0a0a" stroke-width="0.95"/>
<rect x="644.3" y="538.6" width="31.27" height="8.16" rx="5.5" ry="4.08" fill="#FFFFE6" stroke="#0a0a0a" stroke-width="0.95"/>
<rect x="486.45" y="546.76" width="31.27" height="8.16" rx="5.5" ry="4.08" fill="#FFFF66" stroke="#0a0a0a" stroke-width="0.95"/>
<rect x="518.02" y="546.76" width="31.27" height="8.16" rx="5.5" ry="4.08" fill="#FFFFA6" stroke="#0a0a0a" stroke-width="0.95"/>
<rect x="549.59" y="546.76" width="31.27" height="8.16" rx="5.5" ry="4.08" fill="#8080FF" stroke="#0a0a0a" stroke-width="0.95"/>
<rect x="581.16" y="546.76" width="31.27" height="8.16" rx="5.5" ry="4.08" fill="#FFFF66" stroke="#0a0a0a" stroke-width="0.95"/>
<rect x="612.73" y="546.76" width="31.27" height="8.16" rx="5.5" ry="4.08" fill="#8080FF" stroke="#0a0a0a" stroke-width="0.95"/>
<rect x="644.3" y="546.76" width="31.27" height="8.16" rx="5.5" ry="4.08" fill="#8C8CFF" stroke="#0a0a0a" stroke-width="0.95"/>
<rect x="486.45" y="554.91" width="31.27" height="8.16" rx="5.5" ry="4.08" fill="#FFFF80" stroke="#0a0a0a" stroke-width="0.95"/>
<rect x="518.02" y="554.91" width="31.27" height="8.16" rx="5.5" ry="4.08" fill="#FFFF8C" stroke="#0a0a0a" stroke-width="0.95"/>
<rect x="549.59" y="554.91" width="31.27" height="8.16" rx="5.5" ry="4.08" fill="#CCCCFF" stroke="#0a0a0a" stroke-width="0.95"/>
<rect x="581.16" y="554.91" width="31.27" height="8.16" rx="5.5" ry="4.08" fill="#FFFF66" stroke="#0a0a0a" stroke-width="0.95"/>
<rect x="612.73" y="554.91" width="31.27" height="8.16" rx="5.5" ry="4.08" fill="#4D4DFF" stroke="#0a0a0a" stroke-width="0.95"/>
<rect x="644.3" y="554.91" width="31.27" height="8.16" rx="5.5" ry="4.08" fill="#7373FF" stroke="#0a0a0a" stroke-width="0.95"/>
<rect x="486.45" y="563.07" width="31.27" height="8.16" rx="5.5" ry="4.08" fill="#FFFF40" stroke="#0a0a0a" stroke-width="0.95"/>
<rect x="518.02" y="563.07" width="31.27" height="8.16" rx="5.5" ry="4.08" fill="#FFFF99" stroke="#0a0a0a" stroke-width="0.95"/>
<rect x="549.59" y="563.07" width="31.27" height="8.16" rx="5.5" ry="4.08" fill="#FFFFB2" stroke="#0a0a0a" stroke-width="0.95"/>
<rect x="581.16" y="563.07" width="31.27" height="8.16" rx="5.5" ry="4.08" fill="#A6A6FF" stroke="#0a0a0a" stroke-width="0.95"/>
<rect x="612.73" y="563.07" width="31.27" height="8.16" rx="5.5" ry="4.08" fill="#9999FF" stroke="#0a0a0a" stroke-width="0.95"/>
<rect x="644.3" y="563.07" width="31.27" height="8.16" rx="5.5" ry="4.08" fill="#4D4DFF" stroke="#0a0a0a" stroke-width="0.95"/>
<rect x="486.45" y="571.23" width="31.27" height="8.16" rx="5.5" ry="4.08" fill="#F2F2FF" stroke="#0a0a0a" stroke-width="0.95"/>
<rect x="518.02" y="571.23" width="31.27" height="8.16" rx="5.5" ry="4.08" fill="#FFFF59" stroke="#0a0a0a" stroke-width="0.95"/>
<rect x="549.59" y="571.23" width="31.27" height="8.16" rx="5.5" ry="4.08" fill="#FFFF8C" stroke="#0a0a0a" stroke-width="0.95"/>
<rect x="581.16" y="571.23" width="31.27" height="8.16" rx="5.5" ry="4.08" fill="#D9D9FF" stroke="#0a0a0a" stroke-width="0.95"/>
<rect x="612.73" y="571.23" width="31.27" height="8.16" rx="5.5" ry="4.08" fill="#D9D9FF" stroke="#0a0a0a" stroke-width="0.95"/>
<rect x="644.3" y="571.23" width="31.27" height="8.16" rx="5.5" ry="4.08" fill="#2626FF" stroke="#0a0a0a" stroke-width="0.95"/>
<rect x="486.45" y="579.39" width="31.27" height="8.16" rx="5.5" ry="4.08" fill="#EBEBFF" stroke="#0a0a0a" stroke-width="0.95"/>
<rect x="518.02" y="579.39" width="31.27" height="8.16" rx="5.5" ry="4.08" fill="#FFFF59" stroke="#0a0a0a" stroke-width="0.95"/>
<rect x="549.59" y="579.39" width="31.27" height="8.16" rx="5.5" ry="4.08" fill="#FFFF80" stroke="#0a0a0a" stroke-width="0.95"/>
<rect x="581.16" y="579.39" width="31.27" height="8.16" rx="5.5" ry="4.08" fill="#D9D9FF" stroke="#0a0a0a" stroke-width="0.95"/>
<rect x="612.73" y="579.39" width="31.27" height="8.16" rx="5.5" ry="4.08" fill="#D9D9FF" stroke="#0a0a0a" stroke-width="0.95"/>
<rect x="644.3" y="579.39" width="31.27" height="8.16" rx="5.5" ry="4.08" fill="#2626FF" stroke="#0a0a0a" stroke-width="0.95"/>
<rect x="486.45" y="587.54" width="31.27" height="8.16" rx="5.5" ry="4.08" fill="#CCCCFF" stroke="#0a0a0a" stroke-width="0.95"/>
<rect x="518.02" y="587.54" width="31.27" height="8.16" rx="5.5" ry="4.08" fill="#FFFFB2" stroke="#0a0a0a" stroke-width="0.95"/>
<rect x="549.59" y="587.54" width="31.27" height="8.16" rx="5.5" ry="4.08" fill="#B2B2FF" stroke="#0a0a0a" stroke-width="0.95"/>
<rect x="581.16" y="587.54" width="31.27" height="8.16" rx="5.5" ry="4.08" fill="#FFFFB2" stroke="#0a0a0a" stroke-width="0.95"/>
<rect x="612.73" y="587.54" width="31.27" height="8.16" rx="5.5" ry="4.08" fill="#FFFF4D" stroke="#0a0a0a" stroke-width="0.95"/>
<rect x="644.3" y="587.54" width="31.27" height="8.16" rx="5.5" ry="4.08" fill="#2626FF" stroke="#0a0a0a" stroke-width="0.95"/>
<rect x="486.45" y="595.7" width="31.27" height="8.16" rx="5.5" ry="4.08" fill="#FFFFFF" stroke="#0a0a0a" stroke-width="0.95"/>
<rect x="518.02" y="595.7" width="31.27" height="8.16" rx="5.5" ry="4.08" fill="#FFFF99" stroke="#0a0a0a" stroke-width="0.95"/>
<rect x="549.59" y="595.7" width="31.27" height="8.16" rx="5.5" ry="4.08" fill="#2626FF" stroke="#0a0a0a" stroke-width="0.95"/>
<rect x="581.16" y="595.7" width="31.27" height="8.16" rx="5.5" ry="4.08" fill="#FFFFFF" stroke="#0a0a0a" stroke-width="0.95"/>
<rect x="612.73" y="595.7" width="31.27" height="8.16" rx="5.5" ry="4.08" fill="#FFFF59" stroke="#0a0a0a" stroke-width="0.95"/>
<rect x="644.3" y="595.7" width="31.27" height="8.16" rx="5.5" ry="4.08" fill="#CCCCFF" stroke="#0a0a0a" stroke-width="0.95"/>
<rect x="486.45" y="603.86" width="31.27" height="8.16" rx="5.5" ry="4.08" fill="#5959FF" stroke="#0a0a0a" stroke-width="0.95"/>
<rect x="518.02" y="603.86" width="31.27" height="8.16" rx="5.5" ry="4.08" fill="#FFFF4D" stroke="#0a0a0a" stroke-width="0.95"/>
<rect x="549.59" y="603.86" width="31.27" height="8.16" rx="5.5" ry="4.08" fill="#CCCCFF" stroke="#0a0a0a" stroke-width="0.95"/>
<rect x="581.16" y="603.86" width="31.27" height="8.16" rx="5.5" ry="4.08" fill="#8080FF" stroke="#0a0a0a" stroke-width="0.95"/>
<rect x="612.73" y="603.86" width="31.27" height="8.16" rx="5.5" ry="4.08" fill="#FFFFB2" stroke="#0a0a0a" stroke-width="0.95"/>
<rect x="644.3" y="603.86" width="31.27" height="8.16" rx="5.5" ry="4.08" fill="#FFFF99" stroke="#0a0a0a" stroke-width="0.95"/>
<rect x="486.45" y="612.01" width="31.27" height="8.16" rx="5.5" ry="4.08" fill="#8C8CFF" stroke="#0a0a0a" stroke-width="0.95"/>
<rect x="518.02" y="612.01" width="31.27" height="8.16" rx="5.5" ry="4.08" fill="#FFFF40" stroke="#0a0a0a" stroke-width="0.95"/>
<rect x="549.59" y="612.01" width="31.27" height="8.16" rx="5.5" ry="4.08" fill="#A6A6FF" stroke="#0a0a0a" stroke-width="0.95"/>
<rect x="581.16" y="612.01" width="31.27" height="8.16" rx="5.5" ry="4.08" fill="#7373FF" stroke="#0a0a0a" stroke-width="0.95"/>
<rect x="612.73" y="612.01" width="31.27" height="8.16" rx="5.5" ry="4.08" fill="#FFFF99" stroke="#0a0a0a" stroke-width="0.95"/>
<rect x="644.3" y="612.01" width="31.27" height="8.16" rx="5.5" ry="4.08" fill="#FFFFF2" stroke="#0a0a0a" stroke-width="0.95"/>
<rect x="486.45" y="620.17" width="31.27" height="8.16" rx="5.5" ry="4.08" fill="#6666FF" stroke="#0a0a0a" stroke-width="0.95"/>
<rect x="518.02" y="620.17" width="31.27" height="8.16" rx="5.5" ry="4.08" fill="#FFFF40" stroke="#0a0a0a" stroke-width="0.95"/>
<rect x="549.59" y="620.17" width="31.27" height="8.16" rx="5.5" ry="4.08" fill="#B2B2FF" stroke="#0a0a0a" stroke-width="0.95"/>
<rect x="581.16" y="620.17" width="31.27" height="8.16" rx="5.5" ry="4.08" fill="#9999FF" stroke="#0a0a0a" stroke-width="0.95"/>
<rect x="612.73" y="620.17" width="31.27" height="8.16" rx="5.5" ry="4.08" fill="#FFFF99" stroke="#0a0a0a" stroke-width="0.95"/>
<rect x="644.3" y="620.17" width="31.27" height="8.16" rx="5.5" ry="4.08" fill="#FFFFE6" stroke="#0a0a0a" stroke-width="0.95"/>
<rect x="486.45" y="628.33" width="31.27" height="8.16" rx="5.5" ry="4.08" fill="#6666FF" stroke="#0a0a0a" stroke-width="0.95"/>
<rect x="518.02" y="628.33" width="31.27" height="8.16" rx="5.5" ry="4.08" fill="#FFFF40" stroke="#0a0a0a" stroke-width="0.95"/>
<rect x="549.59" y="628.33" width="31.27" height="8.16" rx="5.5" ry="4.08" fill="#A6A6FF" stroke="#0a0a0a" stroke-width="0.95"/>
<rect x="581.16" y="628.33" width="31.27" height="8.16" rx="5.5" ry="4.08" fill="#E6E6FF" stroke="#0a0a0a" stroke-width="0.95"/>
<rect x="612.73" y="628.33" width="31.27" height="8.16" rx="5.5" ry="4.08" fill="#BFBFFF" stroke="#0a0a0a" stroke-width="0.95"/>
<rect x="644.3" y="628.33" width="31.27" height="8.16" rx="5.5" ry="4.08" fill="#FFFF80" stroke="#0a0a0a" stroke-width="0.95"/>
<rect x="486.45" y="636.49" width="31.27" height="8.16" rx="5.5" ry="4.08" fill="#4040FF" stroke="#0a0a0a" stroke-width="0.95"/>
<rect x="518.02" y="636.49" width="31.27" height="8.16" rx="5.5" ry="4.08" fill="#FFFF40" stroke="#0a0a0a" stroke-width="0.95"/>
<rect x="549.59" y="636.49" width="31.27" height="8.16" rx="5.5" ry="4.08" fill="#FFFFFF" stroke="#0a0a0a" stroke-width="0.95"/>
<rect x="581.16" y="636.49" width="31.27" height="8.16" rx="5.5" ry="4.08" fill="#B2B2FF" stroke="#0a0a0a" stroke-width="0.95"/>
<rect x="612.73" y="636.49" width="31.27" height="8.16" rx="5.5" ry="4.08" fill="#D9D9FF" stroke="#0a0a0a" stroke-width="0.95"/>
<rect x="644.3" y="636.49" width="31.27" height="8.16" rx="5.5" ry="4.08" fill="#FFFFB2" stroke="#0a0a0a" stroke-width="0.95"/>
<rect x="486.45" y="644.64" width="31.27" height="8.16" rx="5.5" ry="4.08" fill="#8C8CFF" stroke="#0a0a0a" stroke-width="0.95"/>
<rect x="518.02" y="644.64" width="31.27" height="8.16" rx="5.5" ry="4.08" fill="#FFFF99" stroke="#0a0a0a" stroke-width="0.95"/>
<rect x="549.59" y="644.64" width="31.27" height="8.16" rx="5.5" ry="4.08" fill="#3333FF" stroke="#0a0a0a" stroke-width="0.95"/>
<rect x="581.16" y="644.64" width="31.27" height="8.16" rx="5.5" ry="4.08" fill="#D9D9FF" stroke="#0a0a0a" stroke-width="0.95"/>
<rect x="612.73" y="644.64" width="31.27" height="8.16" rx="5.5" ry="4.08" fill="#FFFF8C" stroke="#0a0a0a" stroke-width="0.95"/>
<rect x="644.3" y="644.64" width="31.27" height="8.16" rx="5.5" ry="4.08" fill="#FFFF4D" stroke="#0a0a0a" stroke-width="0.95"/>
<rect x="486.45" y="652.8" width="31.27" height="8.16" rx="5.5" ry="4.08" fill="#7373FF" stroke="#0a0a0a" stroke-width="0.95"/>
<rect x="518.02" y="652.8" width="31.27" height="8.16" rx="5.5" ry="4.08" fill="#FFFFEB" stroke="#0a0a0a" stroke-width="0.95"/>
<rect x="549.59" y="652.8" width="31.27" height="8.16" rx="5.5" ry="4.08" fill="#8C8CFF" stroke="#0a0a0a" stroke-width="0.95"/>
<rect x="581.16" y="652.8" width="31.27" height="8.16" rx="5.5" ry="4.08" fill="#A6A6FF" stroke="#0a0a0a" stroke-width="0.95"/>
<rect x="612.73" y="652.8" width="31.27" height="8.16" rx="5.5" ry="4.08" fill="#FFFF8C" stroke="#0a0a0a" stroke-width="0.95"/>
<rect x="644.3" y="652.8" width="31.27" height="8.16" rx="5.5" ry="4.08" fill="#FFFF26" stroke="#0a0a0a" stroke-width="0.95"/>
<rect x="486.45" y="660.96" width="31.27" height="8.16" rx="5.5" ry="4.08" fill="#D9D9FF" stroke="#0a0a0a" stroke-width="0.95"/>
<rect x="518.02" y="660.96" width="31.27" height="8.16" rx="5.5" ry="4.08" fill="#A6A6FF" stroke="#0a0a0a" stroke-width="0.95"/>
<rect x="549.59" y="660.96" width="31.27" height="8.16" rx="5.5" ry="4.08" fill="#3333FF" stroke="#0a0a0a" stroke-width="0.95"/>
<rect x="581.16" y="660.96" width="31.27" height="8.16" rx="5.5" ry="4.08" fill="#FFFFFF" stroke="#0a0a0a" stroke-width="0.95"/>
<rect x="612.73" y="660.96" width="31.27" height="8.16" rx="5.5" ry="4.08" fill="#FFFF59" stroke="#0a0a0a" stroke-width="0.95"/>
<rect x="644.3" y="660.96" width="31.27" height="8.16" rx="5.5" ry="4.08" fill="#FFFF4D" stroke="#0a0a0a" stroke-width="0.95"/>
<rect x="486.45" y="669.11" width="31.27" height="8.16" rx="5.5" ry="4.08" fill="#8C8CFF" stroke="#0a0a0a" stroke-width="0.95"/>
<rect x="518.02" y="669.11" width="31.27" height="8.16" rx="5.5" ry="4.08" fill="#9999FF" stroke="#0a0a0a" stroke-width="0.95"/>
<rect x="549.59" y="669.11" width="31.27" height="8.16" rx="5.5" ry="4.08" fill="#7373FF" stroke="#0a0a0a" stroke-width="0.95"/>
<rect x="581.16" y="669.11" width="31.27" height="8.16" rx="5.5" ry="4.08" fill="#FFFFFF" stroke="#0a0a0a" stroke-width="0.95"/>
<rect x="612.73" y="669.11" width="31.27" height="8.16" rx="5.5" ry="4.08" fill="#FFFF59" stroke="#0a0a0a" stroke-width="0.95"/>
<rect x="644.3" y="669.11" width="31.27" height="8.16" rx="5.5" ry="4.08" fill="#FFFF40" stroke="#0a0a0a" stroke-width="0.95"/>
<rect x="486.45" y="677.27" width="31.27" height="8.16" rx="5.5" ry="4.08" fill="#8C8CFF" stroke="#0a0a0a" stroke-width="0.95"/>
<rect x="518.02" y="677.27" width="31.27" height="8.16" rx="5.5" ry="4.08" fill="#7373FF" stroke="#0a0a0a" stroke-width="0.95"/>
<rect x="549.59" y="677.27" width="31.27" height="8.16" rx="5.5" ry="4.08" fill="#7373FF" stroke="#0a0a0a" stroke-width="0.95"/>
<rect x="581.16" y="677.27" width="31.27" height="8.16" rx="5.5" ry="4.08" fill="#FFFFBF" stroke="#0a0a0a" stroke-width="0.95"/>
<rect x="612.73" y="677.27" width="31.27" height="8.16" rx="5.5" ry="4.08" fill="#FFFF4D" stroke="#0a0a0a" stroke-width="0.95"/>
<rect x="644.3" y="677.27" width="31.27" height="8.16" rx="5.5" ry="4.08" fill="#FFFF4D" stroke="#0a0a0a" stroke-width="0.95"/>
<rect x="486.45" y="685.43" width="31.27" height="8.16" rx="5.5" ry="4.08" fill="#BFBFFF" stroke="#0a0a0a" stroke-width="0.95"/>
<rect x="518.02" y="685.43" width="31.27" height="8.16" rx="5.5" ry="4.08" fill="#D9D9FF" stroke="#0a0a0a" stroke-width="0.95"/>
<rect x="549.59" y="685.43" width="31.27" height="8.16" rx="5.5" ry="4.08" fill="#A6A6FF" stroke="#0a0a0a" stroke-width="0.95"/>
<rect x="581.16" y="685.43" width="31.27" height="8.16" rx="5.5" ry="4.08" fill="#6666FF" stroke="#0a0a0a" stroke-width="0.95"/>
<rect x="612.73" y="685.43" width="31.27" height="8.16" rx="5.5" ry="4.08" fill="#FFFF19" stroke="#0a0a0a" stroke-width="0.95"/>
<rect x="644.3" y="685.43" width="31.27" height="8.16" rx="5.5" ry="4.08" fill="#FFFF80" stroke="#0a0a0a" stroke-width="0.95"/>
<rect x="486.45" y="693.59" width="31.27" height="8.16" rx="5.5" ry="4.08" fill="#4040FF" stroke="#0a0a0a" stroke-width="0.95"/>
<rect x="518.02" y="693.59" width="31.27" height="8.16" rx="5.5" ry="4.08" fill="#A6A6FF" stroke="#0a0a0a" stroke-width="0.95"/>
<rect x="549.59" y="693.59" width="31.27" height="8.16" rx="5.5" ry="4.08" fill="#D9D9FF" stroke="#0a0a0a" stroke-width="0.95"/>
<rect x="581.16" y="693.59" width="31.27" height="8.16" rx="5.5" ry="4.08" fill="#FFFFFF" stroke="#0a0a0a" stroke-width="0.95"/>
<rect x="612.73" y="693.59" width="31.27" height="8.16" rx="5.5" ry="4.08" fill="#FFFF33" stroke="#0a0a0a" stroke-width="0.95"/>
<rect x="644.3" y="693.59" width="31.27" height="8.16" rx="5.5" ry="4.08" fill="#FFFF99" stroke="#0a0a0a" stroke-width="0.95"/>
<rect x="486.45" y="701.74" width="31.27" height="8.16" rx="5.5" ry="4.08" fill="#5959FF" stroke="#0a0a0a" stroke-width="0.95"/>
<rect x="518.02" y="701.74" width="31.27" height="8.16" rx="5.5" ry="4.08" fill="#EBEBFF" stroke="#0a0a0a" stroke-width="0.95"/>
<rect x="549.59" y="701.74" width="31.27" height="8.16" rx="5.5" ry="4.08" fill="#7373FF" stroke="#0a0a0a" stroke-width="0.95"/>
<rect x="581.16" y="701.74" width="31.27" height="8.16" rx="5.5" ry="4.08" fill="#EBEBFF" stroke="#0a0a0a" stroke-width="0.95"/>
<rect x="612.73" y="701.74" width="31.27" height="8.16" rx="5.5" ry="4.08" fill="#FFFF33" stroke="#0a0a0a" stroke-width="0.95"/>
<rect x="644.3" y="701.74" width="31.27" height="8.16" rx="5.5" ry="4.08" fill="#FFFF80" stroke="#0a0a0a" stroke-width="0.95"/>
<g font-size="9" fill="#3c3c3c">
<text x="680.8" y="32.18">JrbZIP11</text>
<text x="680.8" y="40.34">JrbZIP59</text>
<text x="680.8" y="48.49">JrbZIP6</text>
<text x="680.8" y="56.65">JrbZIP72</text>
<text x="680.8" y="64.81">JrbZIP73</text>
<text x="680.8" y="72.96">JrbZIP3</text>
<text x="680.8" y="81.12">JrbZIP75</text>
<text x="680.8" y="89.28">JrbZIP35</text>
<text x="680.8" y="97.44">JrbZIP67</text>
<text x="680.8" y="105.59">JrbZIP36</text>
<text x="680.8" y="113.75">JrbZIP28</text>
<text x="680.8" y="121.91">JrbZIP38</text>
<text x="680.8" y="130.06">JrbZIP77</text>
<text x="680.8" y="138.22">JrbZIP81</text>
<text x="680.8" y="146.38">JrbZIP58</text>
<text x="680.8" y="154.54">JrbZIP57</text>
<text x="680.8" y="162.69">JrbZIP76</text>
<text x="680.8" y="170.85">JrbZIP16</text>
<text x="680.8" y="179.01">JrbZIP82</text>
<text x="680.8" y="187.16">JrbZIP71</text>
<text x="680.8" y="195.32">JrbZIP87</text>
<text x="680.8" y="203.48">JrbZIP10</text>
<text x="680.8" y="211.64">JrbZIP27</text>
<text x="680.8" y="219.79">JrbZIP25</text>
<text x="680.8" y="227.95">JrbZIP31</text>
<text x="680.8" y="236.11">JrbZIP46</text>
<text x="680.8" y="244.26">JrbZIP32</text>
<text x="680.8" y="252.42">JrbZIP1</text>
<text x="680.8" y="260.58">JrbZIP74</text>
<text x="680.8" y="268.74">JrbZIP15</text>
<text x="680.8" y="276.89">JrbZIP70</text>
<text x="680.8" y="285.05">JrbZIP42</text>
<text x="680.8" y="293.21">JrbZIP79</text>
<text x="680.8" y="301.36">JrbZIP88</text>
<text x="680.8" y="309.52">JrbZIP21</text>
<text x="680.8" y="317.68">JrbZIP47</text>
<text x="680.8" y="325.84">JrbZIP49</text>
<text x="680.8" y="333.99">JrbZIP8</text>
<text x="680.8" y="342.15">JrbZIP84</text>
<text x="680.8" y="350.31">JrbZIP45</text>
<text x="680.8" y="358.46">JrbZIP22</text>
<text x="680.8" y="366.62">JrbZIP63</text>
<text x="680.8" y="374.78">JrbZIP62</text>
<text x="680.8" y="382.94">JrbZIP69</text>
<text x="680.8" y="391.09">JrbZIP20</text>
<text x="680.8" y="399.25">JrbZIP53</text>
<text x="680.8" y="407.41">JrbZIP41</text>
<text x="680.8" y="415.56">JrbZIP54</text>
<text x="680.8" y="423.72">JrbZIP19</text>
<text x="680.8" y="431.88">JrbZIP52</text>
<text x="680.8" y="440.04">JrbZIP39</text>
<text x="680.8" y="448.19">JrbZIP85</text>
<text x="680.8" y="456.35">JrbZIP65</text>
<text x="680.8" y="464.51">JrbZIP83</text>
<text x="680.8" y="472.66">JrbZIP4</text>
<text x="680.8" y="480.82">JrbZIP13</text>
<text x="680.8" y="488.98">JrbZIP30</text>
<text x="680.8" y="497.14">JrbZIP55</text>
<text x="680.8" y="505.29">JrbZIP48</text>
<text x="680.8" y="513.45">JrbZIP86</text>
<text x="680.8" y="521.61">JrbZIP44</text>
<text x="680.8" y="529.76">JrbZIP64</text>
<text x="680.8" y="537.92">JrbZIP68</text>
<text x="680.8" y="546.08">JrbZIP78</text>
<text x="680.8" y="554.24">JrbZIP14</text>
<text x="680.8" y="562.39">JrbZIP40</text>
<text x="680.8" y="570.55">JrbZIP56</text>
<text x="680.8" y="578.71">JrbZIP7</text>
<text x="680.8" y="586.86">JrbZIP80</text>
<text x="680.8" y="595.02">JrbZIP24</text>
<text x="680.8" y="603.18">JrbZIP50</text>
<text x="680.8" y="611.34">JrbZIP43</text>
<text x="680.8" y="619.49">JrbZIP18</text>
<text x="680.8" y="627.65">JrbZIP33</text>
<text x="680.8" y="635.81">JrbZIP2</text>
<text x="680.8" y="643.96">JrbZIP12</text>
<text x="680.8" y="652.12">JrbZIP5</text>
<text x="680.8" y="660.28">JrbZIP66</text>
<text x="680.8" y="668.44">JrbZIP37</text>
<text x="680.8" y="676.59">JrbZIP26</text>
<text x="680.8" y="684.75">JrbZIP60</text>
<text x="680.8" y="692.91">JrbZIP9</text>
<text x="680.8" y="701.06">JrbZIP51</text>
<text x="680.8" y="709.22">JrbZIP61</text>
</g>
<g font-size="10.5" fill="#000" text-anchor="end">
<text transform="translate(511.09 716.3) rotate(-45)">FB–1</text>
<text transform="translate(542.65 716.3) rotate(-45)">FB–2</text>
<text transform="translate(574.23 716.3) rotate(-45)">FB–3</text>
<text transform="translate(605.8 716.3) rotate(-45)">MB–1</text>
<text transform="translate(637.37 716.3) rotate(-45)">MB–2</text>
<text transform="translate(668.93 716.3) rotate(-45)">MB–3</text>
</g>
<text x="445.8" y="16.2" font-size="18" fill="#000">B</text>
<defs><linearGradient id="g295" x1="0" y1="0" x2="0" y2="1"><stop offset="0" stop-color="#FFFF00"/><stop offset="0.5" stop-color="#FFFFFF"/><stop offset="1" stop-color="#0000FF"/></linearGradient></defs>
<rect x="295.4" y="35.6" width="14.8" height="114.3" fill="url(#g295)" stroke="#555" stroke-width="0.6"/>
<g font-size="9.6" fill="#333">
<line x1="310.2" y1="36.2" x2="312.7" y2="36.2" stroke="#444" stroke-width="0.8"/>
<text transform="translate(314.5 39.3) scale(1.06 0.94)">1.50</text>
<line x1="310.2" y1="55.12" x2="312.7" y2="55.12" stroke="#444" stroke-width="0.8"/>
<text transform="translate(314.5 58.22) scale(1.06 0.94)">1.00</text>
<line x1="310.2" y1="74.03" x2="312.7" y2="74.03" stroke="#444" stroke-width="0.8"/>
<text transform="translate(314.5 77.13) scale(1.06 0.94)">0.50</text>
<line x1="310.2" y1="92.95" x2="312.7" y2="92.95" stroke="#444" stroke-width="0.8"/>
<text transform="translate(314.5 96.05) scale(1.06 0.94)">0.00</text>
<line x1="310.2" y1="111.87" x2="312.7" y2="111.87" stroke="#444" stroke-width="0.8"/>
<text transform="translate(314.5 114.97) scale(1.06 0.94)">-0.50</text>
<line x1="310.2" y1="130.78" x2="312.7" y2="130.78" stroke="#444" stroke-width="0.8"/>
<text transform="translate(314.5 133.88) scale(1.06 0.94)">-1.00</text>
<line x1="310.2" y1="149.7" x2="312.7" y2="149.7" stroke="#444" stroke-width="0.8"/>
<text transform="translate(314.5 152.8) scale(1.06 0.94)">-1.50</text>
</g>
<text x="295" y="174.7" font-size="13.5" font-weight="bold" fill="#000">Group</text>
<g font-size="10.3" fill="#5a5a5a">
<rect x="298.3" y="180.6" width="12.7" height="7.57" fill="#6DB33F"/>
<text transform="translate(312.7 188.58) scale(0.88 1)">A</text>
<rect x="298.3" y="188.15" width="12.7" height="7.57" fill="#F9C80E"/>
<text transform="translate(312.7 196.13) scale(0.88 1)">B</text>
<rect x="298.3" y="195.71" width="12.7" height="7.57" fill="#E9557F"/>
<text transform="translate(312.7 203.68) scale(0.88 1)">C</text>
<rect x="298.3" y="203.26" width="12.7" height="7.57" fill="#008A7B"/>
<text transform="translate(312.7 211.24) scale(0.88 1)">D</text>
<rect x="298.3" y="210.82" width="12.7" height="7.57" fill="#E8001C"/>
<text transform="translate(312.7 218.79) scale(0.88 1)">E</text>
<rect x="298.3" y="218.37" width="12.7" height="7.57" fill="#9894B8"/>
<text transform="translate(312.7 226.35) scale(0.88 1)">F</text>
<rect x="298.3" y="225.92" width="12.7" height="7.57" fill="#A4D47E"/>
<text transform="translate(312.7 233.9) scale(0.88 1)">G</text>
<rect x="298.3" y="233.48" width="12.7" height="7.57" fill="#F99A1A"/>
<text transform="translate(312.7 241.45) scale(0.88 1)">H</text>
<rect x="298.3" y="241.03" width="12.7" height="7.57" fill="#5B4890"/>
<text transform="translate(312.7 249.01) scale(0.88 1)">I</text>
<rect x="298.3" y="248.58" width="12.7" height="7.57" fill="#FBB88E"/>
<text transform="translate(312.7 256.56) scale(0.88 1)">J</text>
<rect x="298.3" y="256.14" width="12.7" height="7.57" fill="#7E8B74"/>
<text transform="translate(312.7 264.12) scale(0.88 1)">K</text>
<rect x="298.3" y="263.69" width="12.7" height="7.57" fill="#D4563A"/>
<text transform="translate(312.7 271.67) scale(0.88 1)">M</text>
<rect x="298.3" y="271.25" width="12.7" height="7.57" fill="#4EC38E"/>
<text transform="translate(312.7 279.22) scale(0.88 1)">S</text>
</g>
<defs><linearGradient id="g733" x1="0" y1="0" x2="0" y2="1"><stop offset="0" stop-color="#FFFF00"/><stop offset="0.56" stop-color="#FFFFFF"/><stop offset="1" stop-color="#0000FF"/></linearGradient></defs>
<rect x="733.9" y="35.8" width="14.8" height="113.9" fill="url(#g733)" stroke="#555" stroke-width="0.6"/>
<g font-size="9.6" fill="#333">
<line x1="748.7" y1="36.4" x2="751.2" y2="36.4" stroke="#444" stroke-width="0.8"/>
<text transform="translate(752.2 39.5) scale(1.06 0.94)">2.50</text>
<line x1="748.7" y1="48.97" x2="751.2" y2="48.97" stroke="#444" stroke-width="0.8"/>
<text transform="translate(752.2 52.07) scale(1.06 0.94)">2.00</text>
<line x1="748.7" y1="61.53" x2="751.2" y2="61.53" stroke="#444" stroke-width="0.8"/>
<text transform="translate(752.2 64.63) scale(1.06 0.94)">1.50</text>
<line x1="748.7" y1="74.1" x2="751.2" y2="74.1" stroke="#444" stroke-width="0.8"/>
<text transform="translate(752.2 77.2) scale(1.06 0.94)">1.00</text>
<line x1="748.7" y1="86.67" x2="751.2" y2="86.67" stroke="#444" stroke-width="0.8"/>
<text transform="translate(752.2 89.77) scale(1.06 0.94)">0.50</text>
<line x1="748.7" y1="99.23" x2="751.2" y2="99.23" stroke="#444" stroke-width="0.8"/>
<text transform="translate(752.2 102.33) scale(1.06 0.94)">0.00</text>
<line x1="748.7" y1="111.8" x2="751.2" y2="111.8" stroke="#444" stroke-width="0.8"/>
<text transform="translate(752.2 114.9) scale(1.06 0.94)">-0.50</text>
<line x1="748.7" y1="124.37" x2="751.2" y2="124.37" stroke="#444" stroke-width="0.8"/>
<text transform="translate(752.2 127.47) scale(1.06 0.94)">-1.00</text>
<line x1="748.7" y1="136.93" x2="751.2" y2="136.93" stroke="#444" stroke-width="0.8"/>
<text transform="translate(752.2 140.03) scale(1.06 0.94)">-1.50</text>
<line x1="748.7" y1="149.5" x2="751.2" y2="149.5" stroke="#444" stroke-width="0.8"/>
<text transform="translate(752.2 152.6) scale(1.06 0.94)">-2.00</text>
</g>
<text x="733.8" y="174.7" font-size="13.5" font-weight="bold" fill="#000">Group</text>
<g font-size="10.3" fill="#5a5a5a">
<rect x="736.9" y="180.6" width="12.7" height="7.57" fill="#6DB33F"/>
<text transform="translate(751.3 188.58) scale(0.88 1)">A</text>
<rect x="736.9" y="188.15" width="12.7" height="7.57" fill="#F9C80E"/>
<text transform="translate(751.3 196.13) scale(0.88 1)">B</text>
<rect x="736.9" y="195.71" width="12.7" height="7.57" fill="#E9557F"/>
<text transform="translate(751.3 203.68) scale(0.88 1)">C</text>
<rect x="736.9" y="203.26" width="12.7" height="7.57" fill="#008A7B"/>
<text transform="translate(751.3 211.24) scale(0.88 1)">D</text>
<rect x="736.9" y="210.82" width="12.7" height="7.57" fill="#E8001C"/>
<text transform="translate(751.3 218.79) scale(0.88 1)">E</text>
<rect x="736.9" y="218.37" width="12.7" height="7.57" fill="#9894B8"/>
<text transform="translate(751.3 226.35) scale(0.88 1)">F</text>
<rect x="736.9" y="225.92" width="12.7" height="7.57" fill="#A4D47E"/>
<text transform="translate(751.3 233.9) scale(0.88 1)">G</text>
<rect x="736.9" y="233.48" width="12.7" height="7.57" fill="#F99A1A"/>
<text transform="translate(751.3 241.45) scale(0.88 1)">H</text>
<rect x="736.9" y="241.03" width="12.7" height="7.57" fill="#5B4890"/>
<text transform="translate(751.3 249.01) scale(0.88 1)">I</text>
<rect x="736.9" y="248.58" width="12.7" height="7.57" fill="#FBB88E"/>
<text transform="translate(751.3 256.56) scale(0.88 1)">J</text>
<rect x="736.9" y="256.14" width="12.7" height="7.57" fill="#7E8B74"/>
<text transform="translate(751.3 264.12) scale(0.88 1)">K</text>
<rect x="736.9" y="263.69" width="12.7" height="7.57" fill="#D4563A"/>
<text transform="translate(751.3 271.67) scale(0.88 1)">M</text>
<rect x="736.9" y="271.25" width="12.7" height="7.57" fill="#4EC38E"/>
<text transform="translate(751.3 279.22) scale(0.88 1)">S</text>
</g>
</svg>
</body></html>
